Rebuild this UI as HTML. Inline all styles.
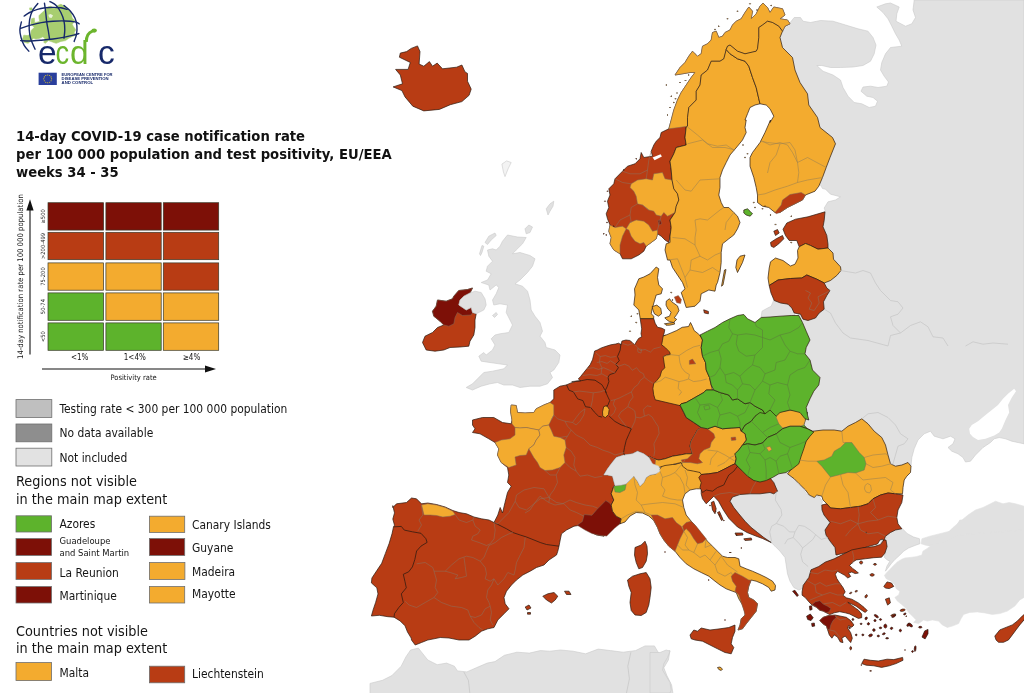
<!DOCTYPE html>
<html><head><meta charset="utf-8"><title>ECDC COVID-19 map</title>
<style>
html,body{margin:0;padding:0;background:#fff;}
body{width:1024px;height:693px;overflow:hidden;position:relative;font-family:"DejaVu Sans Condensed","DejaVu Sans","Liberation Sans",sans-serif;color:#111;}
#map{position:absolute;left:0;top:0;filter:blur(0.45px);}
#left{filter:blur(0.4px);}
</style></head><body>
<svg id="map" width="1024" height="693" viewBox="0 0 1024 693" stroke-linejoin="round">
<path d="M789.2,23.8L794.2,17.5L800.5,17.5L803.0,21.2L810.5,22.5L820.5,20.5L833.0,21.2L845.5,25.0L858.0,28.8L868.0,31.2L873.0,37.5L876.0,45.0L874.2,53.8L870.5,61.2L863.0,65.5L853.0,67.0L840.5,67.5L830.5,67.5L821.8,65.5L816.8,65.5L823.0,71.2L833.0,75.0L840.5,80.0L843.0,87.5L848.0,96.2L854.2,102.5L861.8,103.8L869.2,107.5L875.5,106.2L877.5,101.2L873.0,97.5L866.8,96.2L861.0,91.2L863.0,87.0L870.5,86.2L878.0,87.5L886.8,86.2L888.5,82.0L884.2,76.2L880.5,70.0L881.8,62.5L885.5,53.8L890.5,47.5L901.8,46.2L899.2,40.0L895.5,33.8L891.8,26.2L888.0,18.8L883.0,12.5L876.8,7.0L885.5,3.8L890.5,3.0L899.2,7.0L896.8,13.8L896.0,21.2L905.5,26.2L911.8,23.8L915.5,17.5L913.0,10.0L914.2,0.0L1024.0,0.0L1024.0,443.8L1018.0,442.5L1011.8,441.2L1005.5,438.8L999.2,437.5L994.2,438.8L990.5,442.5L983.0,447.5L975.5,455.0L970.5,461.2L965.5,462.0L963.0,457.5L958.0,453.8L951.8,451.2L948.0,447.5L953.0,443.8L955.0,438.8L950.5,436.2L943.0,438.8L934.2,436.2L930.5,431.2L924.2,433.8L918.0,440.0L914.2,448.8L911.8,457.5L911.0,466.2L903.0,480.0L878.0,467.5L860.0,440.0L800.0,440.0L790.0,420.0L780.0,380.0L790.0,330.0L806.0,300.0L808.0,265.0L812.0,225.0L825.5,211.8L824.2,208.0L828.0,201.8L835.5,200.0L840.5,196.8L830.5,194.2L825.5,189.2L822.5,188.5L800.0,150.0L775.0,100.0L770.0,50.0L775.0,30.0Z" fill="#e1e1e1" stroke="#c9c9c9" stroke-width="0.6"/>
<path d="M921.9,538.7L929.9,536.2L939.9,533.7L949.8,531.2L956.1,526.2L959.8,520.0L1024.0,520.0L1024.0,597.4L1019.8,599.9L1014.8,606.1L1007.3,611.1L999.8,613.6L992.3,614.4L984.8,612.9L977.3,611.9L969.8,612.4L963.6,614.4L961.1,618.6L958.6,623.6L952.3,626.1L947.3,627.4L942.3,624.9L938.6,621.1L932.4,619.9L927.4,621.1L923.6,619.9L918.6,623.6L913.6,622.4L916.1,619.9L912.4,616.1L908.6,612.4L906.1,608.6L902.4,604.9L897.4,601.1L894.9,597.4L898.7,594.9L899.9,591.2L896.2,588.7L894.9,584.9L891.2,581.2L886.2,578.7L884.4,575.4L886.9,572.4L889.9,569.4L893.7,565.4L897.4,561.9L901.9,559.2L904.9,558.0L909.9,557.5L916.1,556.7L921.9,555.0L922.9,551.2L926.9,548.7L930.4,546.2L924.9,545.0L921.1,543.7Z" fill="#e1e1e1" stroke="#e1e1e1" stroke-width="0.6"/>
<path d="M1024.0,506.2L1015.5,503.8L1009.2,502.5L1003.0,503.8L995.5,501.2L990.5,503.8L983.0,507.5L975.5,510.0L968.0,515.0L960.5,521.2L953.0,527.5L948.0,532.5L940.5,536.2L930.5,538.8L923.5,540.5L928.0,545.0L943.0,542.5L958.0,535.0L1024.0,530.0Z" fill="#e1e1e1" stroke="#e1e1e1" stroke-width="0.6"/>
<path d="M885.4,541.2L887.4,530.0L894.9,526.2L901.9,528.2L907.4,533.7L913.6,537.0L919.4,538.7L919.9,543.7L914.9,545.5L908.6,548.0L903.6,551.2L899.9,555.0L894.9,559.5L891.2,563.7L887.4,568.7L885.4,571.2L886.9,566.2L889.9,561.2L887.4,560.0L884.4,557.5L885.4,550.0L879.9,547.5L882.4,535.0Z" fill="#e1e1e1" stroke="#c9c9c9" stroke-width="0.6"/>
<path d="M730.0,501.2L732.5,497.0L740.0,494.5L750.0,493.8L760.0,493.8L770.0,492.5L773.8,493.8L777.5,491.2L772.5,483.8L771.2,478.8L775.0,475.0L782.5,473.0L788.8,473.8L793.8,477.5L797.5,483.8L802.5,487.5L806.2,493.8L812.5,497.5L818.8,496.2L822.5,501.2L821.2,506.2L823.8,511.2L827.5,517.5L830.0,522.5L826.2,528.8L825.0,535.0L828.8,540.0L832.5,545.0L837.5,551.2L837.5,557.5L832.5,562.5L825.0,565.0L820.0,567.5L815.0,571.2L812.5,576.2L808.8,582.5L803.8,588.0L798.8,590.0L793.8,587.5L790.0,581.2L787.5,573.8L786.2,565.0L785.0,557.5L780.0,551.2L775.0,546.2L771.2,542.5L763.8,537.5L757.5,532.5L751.2,527.5L745.0,521.2L738.8,513.8L733.8,507.5Z" fill="#e1e1e1" stroke="#c9c9c9" stroke-width="0.6"/>
<path d="M507.5,235.0L517.5,237.0L526.2,237.5L522.5,243.8L516.2,250.0L512.5,253.8L520.0,252.5L530.0,255.5L535.0,258.8L532.5,266.2L527.5,272.5L520.0,280.0L515.0,283.8L522.5,286.2L527.5,291.2L530.0,300.0L531.2,310.0L535.0,316.2L540.0,322.5L542.5,331.2L540.0,336.2L545.0,342.5L546.2,347.5L555.0,350.0L560.0,355.0L558.8,362.5L553.8,370.0L550.0,372.5L552.5,377.5L547.5,383.8L540.0,386.2L530.0,386.2L520.0,387.5L512.5,385.0L503.8,385.0L497.5,382.5L490.0,383.8L481.2,386.2L472.5,390.0L466.2,387.5L472.5,383.8L477.5,378.8L483.8,372.5L492.5,371.2L503.8,368.8L507.5,365.0L498.8,363.8L490.0,362.5L481.2,361.2L478.8,356.2L483.8,352.5L486.2,355.0L492.5,350.0L495.0,345.0L491.2,338.8L495.0,335.0L500.0,333.8L508.8,332.5L512.5,325.0L510.0,320.0L506.2,312.5L507.5,305.0L500.0,303.8L493.8,305.0L492.5,300.0L496.2,293.8L498.8,287.5L496.2,285.0L490.0,290.0L488.8,285.0L481.2,282.5L487.5,280.0L491.2,273.8L486.2,271.2L487.5,266.2L492.5,261.2L488.8,256.2L487.5,250.0L492.5,248.8L496.2,250.0L500.0,246.2L502.5,241.2Z" fill="#e1e1e1" stroke="#c9c9c9" stroke-width="0.6"/>
<path d="M485.0,242.5L488.8,236.2L495.0,233.0L496.2,235.5L491.2,240.0L487.5,244.5Z" fill="#e1e1e1" stroke="#c9c9c9" stroke-width="0.6"/>
<path d="M479.5,253.8L482.0,245.5L483.8,246.2L482.0,252.5L480.5,255.5Z" fill="#e1e1e1" stroke="#c9c9c9" stroke-width="0.6"/>
<path d="M525.0,228.8L528.8,225.0L532.5,227.0L530.0,232.5L526.2,233.8Z" fill="#e1e1e1" stroke="#c9c9c9" stroke-width="0.6"/>
<path d="M546.2,208.8L550.0,203.8L553.8,201.2L553.0,206.2L550.0,211.2L548.0,215.0Z" fill="#e1e1e1" stroke="#c9c9c9" stroke-width="0.6"/>
<path d="M492.5,315.5L496.2,312.5L497.5,314.5L494.5,317.5Z" fill="#e1e1e1" stroke="#c9c9c9" stroke-width="0.6"/>
<path d="M501.9,164.1L506.6,160.9L511.2,162.5L508.1,168.8L505.0,176.6L503.4,171.9Z" fill="#f3f3f3" stroke="#c9c9c9" stroke-width="0.6"/>
<path d="M761.2,317.0L762.0,311.2L766.2,308.8L771.2,306.2L773.8,300.0L780.0,301.2L787.5,303.8L792.5,308.8L795.0,315.5L780.0,317.5L770.0,318.0Z" fill="#e1e1e1" stroke="#c9c9c9" stroke-width="0.6"/>
<path d="M370.0,683.4L382.5,680.3L391.9,675.6L401.2,666.2L405.9,656.9L410.6,650.0L418.4,648.1L421.6,652.2L427.8,660.0L437.2,664.7L446.6,663.1L454.4,666.2L457.5,670.9L466.9,671.9L476.2,667.8L487.2,663.1L495.0,661.6L504.4,655.3L516.9,652.2L529.4,653.1L540.3,650.6L549.7,651.2L560.6,650.0L573.1,651.2L585.6,653.8L598.1,649.1L610.6,650.6L623.1,652.2L635.6,650.6L645.0,645.9L654.4,645.9L659.1,653.8L670.0,650.6L668.4,660.0L663.8,667.8L666.9,675.6L671.6,685.0L673.1,694.4L370.0,694.4Z" fill="#e1e1e1" stroke="#c9c9c9" stroke-width="0.6"/>
<path d="M660.0,652.5L666.2,650.0L670.0,651.2L667.5,657.5L663.8,663.8L662.5,670.0L666.2,676.2L670.0,682.5L671.2,690.0L670.0,693.0L650.0,693.0L650.0,652.5Z" fill="#e1e1e1" stroke="#c9c9c9" stroke-width="0.6"/>
<path d="M741.2,431.2L745.0,425.0L751.2,421.2L755.0,416.2L760.0,410.5L767.5,408.0L775.0,409.2L790.0,408.0L798.8,408.5L807.5,412.5L805.0,421.2L803.8,425.0L807.5,428.8L813.8,432.0L807.5,428.8L800.0,426.2L790.0,426.2L782.5,428.8L776.2,433.8L767.5,437.5L762.5,443.0L755.0,445.0L747.5,443.8L742.5,445.0L746.2,440.0L745.0,433.8Z" fill="#5db32c" stroke="#2b1a10" stroke-width="0.7"/>
<path d="M777.0,412.5L790.0,410.5L798.8,410.5L806.2,413.8L805.0,421.2L803.8,425.0L800.0,426.2L790.0,426.2L782.5,428.0L778.8,423.8L776.2,417.5Z" fill="#f3ab2f" stroke="#7a6a5a" stroke-width="0.5"/>
<path d="M701.2,490.0L705.0,488.0L711.2,489.2L716.2,486.8L722.5,484.2L725.0,480.0L727.5,475.8L731.2,471.2L736.2,465.5L742.5,470.5L750.0,475.5L756.2,479.2L763.8,479.2L770.0,478.0L773.8,482.5L777.5,491.2L773.8,493.8L770.0,492.5L760.0,493.8L750.0,493.8L740.0,494.5L732.5,497.0L730.0,501.2L733.8,507.5L738.8,513.8L745.0,521.2L751.2,527.5L757.5,532.5L763.8,537.5L771.2,542.5L762.5,538.5L757.0,536.5L747.0,532.5L737.5,527.0L729.0,518.5L723.5,510.2L718.5,501.2L713.8,496.2L710.0,500.0L706.2,503.8L702.5,498.8L701.2,493.8Z" fill="#b83c14" stroke="#2b1a10" stroke-width="0.7"/>
<path d="M787.5,473.8L792.5,468.0L797.5,459.5L801.2,450.8L806.2,440.8L813.0,431.2L823.0,430.0L834.2,430.0L841.8,431.2L848.0,426.2L855.5,422.5L861.8,418.8L868.0,423.8L874.2,431.2L881.8,437.5L885.5,445.0L888.0,455.0L890.5,463.8L895.5,466.2L901.8,465.0L908.0,462.5L911.0,466.2L910.5,472.5L906.8,476.2L904.2,480.0L903.0,487.5L902.5,493.8L895.5,493.8L888.0,493.0L880.5,495.0L873.0,498.8L868.0,503.8L860.5,506.2L850.5,507.5L840.5,508.8L830.5,508.0L826.8,503.8L823.0,500.0L821.8,496.2L816.8,495.0L814.2,497.5L809.2,495.0L805.5,490.0L799.2,483.8L794.2,478.8Z" fill="#f3ab2f" stroke="#2b1a10" stroke-width="0.7"/>
<path d="M640.2,318.6L641.0,324.1L641.7,328.9L641.0,333.7L641.7,336.8L638.6,338.4L637.0,340.8L634.6,344.8L632.2,342.4L629.8,340.5L625.9,340.0L621.9,341.1L621.1,344.8L618.7,343.2L615.6,344.0L610.8,344.8L606.0,346.3L601.3,347.9L597.3,350.0L594.6,351.1L593.7,355.1L592.5,359.8L590.2,364.6L587.0,368.6L583.8,372.5L580.6,376.5L578.3,378.9L580.6,380.8L575.9,381.3L571.1,382.9L566.2,385.0L560.0,386.2L553.8,390.0L553.8,398.8L550.0,402.5L543.8,405.0L536.2,408.8L533.8,412.5L525.0,413.0L517.5,412.5L516.2,405.5L511.2,405.0L510.5,411.2L512.0,420.0L511.2,423.8L502.5,422.5L493.8,417.5L482.5,417.5L472.5,420.0L472.5,425.0L475.0,428.8L472.5,432.5L480.0,433.8L488.8,438.8L495.0,442.5L498.8,448.8L497.5,455.0L501.2,462.5L507.5,467.5L508.8,475.0L507.5,482.5L511.2,486.2L507.5,492.5L505.0,502.5L502.5,513.0L500.2,507.5L497.8,515.0L494.0,522.5L489.0,520.0L481.5,518.8L474.0,517.0L466.5,513.8L459.0,512.5L452.8,510.5L445.2,507.0L436.5,504.5L427.8,503.0L421.5,503.8L416.5,498.8L411.5,498.0L406.5,502.5L396.5,503.8L392.8,507.5L392.8,505.6L394.5,512.9L392.8,519.1L394.5,525.2L393.5,526.9L392.0,533.8L389.1,543.6L385.4,553.4L381.7,563.3L376.8,570.6L371.9,578.0L371.4,582.9L376.8,587.8L378.0,593.9L375.6,602.5L373.1,609.9L371.4,616.0L379.3,615.3L387.9,616.7L394.0,617.2L400.1,620.9L405.0,625.8L407.5,632.0L411.2,638.1L411.5,640.0L415.2,645.0L421.5,642.5L427.8,640.0L434.0,638.8L440.2,637.5L449.0,638.0L459.0,640.0L469.0,640.0L475.2,636.2L481.5,631.2L487.8,628.8L494.0,627.5L497.8,620.0L504.0,613.8L509.0,608.8L505.2,603.8L504.0,597.5L506.5,591.2L511.5,585.0L516.5,580.0L522.8,575.0L530.2,571.2L536.5,567.5L544.0,565.0L549.0,560.0L556.5,555.0L557.8,551.2L559.0,546.2L560.2,540.0L561.5,533.8L566.5,530.0L574.0,526.2L581.5,525.0L584.0,527.5L589.0,531.2L596.5,535.0L604.0,536.2L609.0,531.2L615.2,526.2L621.5,522.5L620.0,523.8L621.2,518.8L616.2,516.2L612.5,511.2L611.2,505.0L613.8,500.0L611.2,493.8L613.8,486.2L615.0,485.5L613.8,481.2L612.5,476.2L607.5,475.0L603.8,475.0L607.5,468.8L611.2,463.8L616.2,457.5L623.8,455.0L632.5,453.8L637.5,451.2L643.8,453.8L648.8,457.5L648.8,456.2L653.8,458.8L658.8,460.0L665.0,458.8L672.5,456.2L680.0,455.0L686.2,453.8L692.5,453.8L690.0,446.2L691.2,441.2L697.5,430.0L701.2,427.5L693.8,422.5L686.2,417.5L683.8,412.5L680.0,405.0L686.2,402.5L685.0,385.0L675.0,360.0L674.3,345.6L671.1,337.6L665.6,335.2L663.2,336.0L664.0,333.7L664.8,329.7L661.6,328.1L657.6,327.3L655.2,323.3L653.7,318.6Z" fill="#b83c14" stroke="#2b1a10" stroke-width="0.7"/>
<path d="M663.2,336.0L665.6,335.2L671.1,332.9L676.7,330.5L682.2,327.3L688.6,326.5L690.5,322.5L692.5,326.5L694.1,330.5L698.1,333.7L700.5,336.0L702.1,337.6L700.0,335.0L702.5,340.0L701.2,347.5L702.5,356.2L705.5,362.5L706.2,370.0L709.5,377.5L711.2,385.0L712.5,390.0L706.2,390.0L703.8,392.5L695.0,397.5L686.2,402.5L681.2,403.8L679.5,405.5L655.2,399.8L653.7,394.8L652.9,388.4L653.7,383.7L656.8,380.5L660.0,376.5L661.6,371.0L664.8,367.8L664.0,362.2L663.2,356.7L666.3,355.1L670.3,354.3L669.5,351.9L665.6,347.9L661.6,344.8L662.4,340.8Z" fill="#f3ab2f" stroke="#2b1a10" stroke-width="0.7"/>
<path d="M689.4,360.6L692.5,359.0L695.7,363.8L689.4,364.3Z" fill="#b83c14" stroke="#7a6a5a" stroke-width="0.5"/>
<path d="M603.7,406.7L606.8,405.5L609.2,409.3L608.5,414.5L605.4,417.6L602.8,416.2L602.5,411.9Z" fill="#f3ab2f" stroke="#2b1a10" stroke-width="0.7"/>
<path d="M511.2,405.0L516.2,405.5L517.5,412.5L525.0,413.0L533.8,412.5L536.2,408.8L543.8,405.0L550.0,402.5L553.8,405.0L553.8,415.0L551.2,420.0L548.8,425.0L542.5,426.2L538.8,430.0L532.5,428.8L526.2,427.5L520.0,428.0L515.0,427.5L512.0,423.8L512.0,420.0L510.5,411.2Z" fill="#f3ab2f" stroke="#7a6a5a" stroke-width="0.5"/>
<path d="M515.0,427.5L520.0,428.0L526.2,427.5L532.5,428.8L538.8,430.0L540.0,435.0L536.2,440.0L533.8,445.0L528.8,448.8L526.2,455.0L520.0,455.5L515.0,457.0L516.2,465.0L508.8,467.5L501.2,462.5L497.5,455.0L498.8,448.8L495.0,442.5L501.2,440.0L510.0,438.8L515.0,435.0Z" fill="#f3ab2f" stroke="#7a6a5a" stroke-width="0.5"/>
<path d="M538.8,430.0L542.5,426.2L548.8,425.0L551.2,430.0L553.8,436.2L560.0,437.5L565.0,440.0L566.2,447.5L563.8,455.0L565.0,462.5L560.0,467.5L552.5,470.0L545.0,470.5L540.0,467.5L537.5,462.5L533.8,457.5L528.8,448.8L533.8,445.0L536.2,440.0L540.0,435.0Z" fill="#f3ab2f" stroke="#7a6a5a" stroke-width="0.5"/>
<path d="M577.2,525.2L582.4,521.4L584.2,514.5L591.9,515.3L597.1,509.3L605.8,500.6L609.3,502.7L611.2,504.9L612.6,511.2L616.2,516.2L621.2,518.8L620.0,523.8L614.5,528.3L606.7,536.1L598.9,535.2L591.9,533.5L585.0,530.0Z" fill="#7d1007" stroke="#7a6a5a" stroke-width="0.5"/>
<path d="M421.5,505.0L427.8,503.8L436.5,505.0L445.2,507.5L452.8,511.2L455.2,514.5L450.2,516.2L442.8,517.0L436.5,515.5L430.2,515.0L424.0,515.0L422.8,510.0Z" fill="#f3ab2f" stroke="#7a6a5a" stroke-width="0.5"/>
<path d="M635.0,547.5L641.2,545.0L645.0,541.2L647.0,546.2L647.5,553.8L646.2,561.2L642.5,567.5L638.8,568.8L636.2,562.5L634.5,555.0Z" fill="#b83c14" stroke="#2b1a10" stroke-width="0.7"/>
<path d="M542.8,596.2L547.8,593.8L554.0,592.5L557.8,596.2L555.2,600.0L551.5,603.0L546.5,600.0Z" fill="#b83c14" stroke="#2b1a10" stroke-width="0.7"/>
<path d="M564.5,591.2L569.0,591.2L571.0,594.5L566.5,594.5Z" fill="#b83c14" stroke="#2b1a10" stroke-width="0.7"/>
<path d="M525.2,607.0L529.0,605.0L531.0,608.0L527.0,610.0Z" fill="#b83c14" stroke="#2b1a10" stroke-width="0.7"/>
<path d="M527.5,612.5L530.5,612.5L530.5,614.2L527.5,614.2Z" fill="#b83c14" stroke="#2b1a10" stroke-width="0.7"/>
<path d="M668.8,128.8L671.2,120.0L673.8,110.0L677.5,100.0L681.2,92.5L686.2,85.0L691.2,77.5L695.0,72.5L690.0,72.5L682.5,73.8L675.0,75.0L680.0,67.5L685.0,62.5L688.8,56.2L692.5,51.2L695.0,53.8L697.5,56.2L701.2,53.8L702.5,46.2L707.5,43.8L711.2,40.0L712.5,32.5L716.2,31.2L718.8,37.5L722.5,36.2L725.0,32.5L730.0,30.0L732.5,25.0L736.2,21.2L741.2,18.8L745.0,12.5L748.8,7.0L752.5,11.2L751.2,18.8L756.2,13.8L760.0,6.2L763.0,3.0L767.5,7.5L770.0,12.5L773.8,7.0L782.5,8.8L785.0,15.0L780.0,18.8L787.5,20.0L790.0,23.8L785.0,26.2L782.5,31.2L778.8,26.2L772.5,22.5L767.5,21.2L762.5,25.0L758.8,27.5L758.8,37.5L757.5,48.8L756.2,51.2L745.0,53.8L737.5,51.2L730.0,45.0L727.5,46.2L726.2,49.5L723.8,58.8L720.0,61.2L711.2,61.2L707.5,70.0L701.2,75.0L700.0,85.0L696.2,91.2L696.2,100.0L688.8,107.5L687.5,117.5L687.5,126.2L686.2,127.0L685.0,137.5L686.2,145.0L676.2,147.5L673.8,153.8L670.0,161.2L671.2,170.0L672.0,180.0L673.8,188.8L677.5,193.8L678.8,200.0L676.2,206.2L675.0,212.5L670.0,220.0L671.2,227.5L670.0,236.2L668.8,242.5L665.0,240.0L661.2,236.2L657.5,233.8L656.2,238.8L651.2,242.5L646.2,246.2L643.8,251.2L638.8,255.0L631.2,258.8L622.5,258.8L620.0,253.8L613.8,250.0L610.0,243.8L611.2,237.5L608.8,231.2L610.0,225.0L607.5,218.8L606.2,213.8L608.8,207.5L607.5,201.2L610.0,195.0L608.8,188.8L613.8,183.8L615.0,178.8L622.5,171.2L627.5,166.2L635.0,163.8L640.0,158.8L641.2,152.5L643.8,157.5L652.5,156.2L651.2,151.2L653.8,145.0L656.2,141.2L660.0,137.5L661.2,132.5L668.8,128.8Z" fill="#b83c14" stroke="#2b1a10" stroke-width="0.7"/>
<path d="M668.8,128.8L671.2,120.0L673.8,110.0L677.5,100.0L681.2,92.5L686.2,85.0L691.2,77.5L695.0,72.5L690.0,72.5L682.5,73.8L675.0,75.0L680.0,67.5L685.0,62.5L688.8,56.2L692.5,51.2L695.0,53.8L697.5,56.2L701.2,53.8L702.5,46.2L707.5,43.8L711.2,40.0L712.5,32.5L716.2,31.2L718.8,37.5L722.5,36.2L725.0,32.5L730.0,30.0L732.5,25.0L736.2,21.2L741.2,18.8L745.0,12.5L748.8,7.0L752.5,11.2L751.2,18.8L756.2,13.8L760.0,6.2L763.0,3.0L767.5,7.5L770.0,12.5L773.8,7.0L782.5,8.8L785.0,15.0L780.0,18.8L787.5,20.0L790.0,23.8L785.0,26.2L782.5,31.2L778.8,26.2L772.5,22.5L767.5,21.2L762.5,25.0L758.8,27.5L758.8,37.5L757.5,48.8L756.2,51.2L745.0,53.8L737.5,51.2L730.0,45.0L727.5,46.2L726.2,49.5L723.8,58.8L720.0,61.2L711.2,61.2L707.5,70.0L701.2,75.0L700.0,85.0L696.2,91.2L696.2,100.0L688.8,107.5L687.5,117.5L687.5,126.2L678.8,127.5Z" fill="#f3ab2f" stroke="#7a6a5a" stroke-width="0.5"/>
<path d="M653.8,173.8L662.5,172.5L665.0,178.8L672.0,180.0L673.8,188.8L677.5,193.8L678.8,200.0L676.2,206.2L675.0,212.5L667.5,216.2L663.8,212.5L661.2,216.2L656.2,215.0L653.8,211.2L648.8,210.0L642.5,205.0L637.5,203.8L636.2,196.2L633.8,191.2L630.0,187.5L631.2,183.8L637.5,180.0L646.2,178.8L652.5,180.0Z" fill="#f3ab2f" stroke="#7a6a5a" stroke-width="0.5"/>
<path d="M610.0,225.0L615.0,227.5L622.5,226.2L626.2,228.8L622.5,236.2L620.0,245.0L620.0,253.8L613.8,250.0L610.0,243.8L611.2,237.5L608.8,231.2Z" fill="#f3ab2f" stroke="#7a6a5a" stroke-width="0.5"/>
<path d="M626.2,228.8L630.0,222.5L636.2,220.0L643.8,221.2L648.8,225.0L652.5,231.2L657.5,230.0L657.5,233.8L656.2,238.8L651.2,242.5L646.2,246.2L643.8,242.5L640.0,243.8L635.0,241.2L631.2,236.2L628.8,230.0Z" fill="#f3ab2f" stroke="#7a6a5a" stroke-width="0.5"/>
<path d="M658.0,220.5L660.5,220.0L661.5,223.8L659.0,225.0Z" fill="#7d1007" stroke="#7a6a5a" stroke-width="0.5"/>
<path d="M726.2,49.5L730.0,53.8L737.5,58.8L745.0,61.2L748.8,66.2L752.5,77.5L756.2,87.5L758.8,98.8L760.0,103.8L755.0,105.0L750.0,107.5L747.5,113.8L745.0,120.0L746.2,120.0L745.0,127.5L746.2,132.5L742.5,140.0L737.5,146.2L730.0,155.0L726.2,162.5L722.5,170.0L720.0,177.5L720.0,187.5L718.8,195.0L721.2,202.5L723.8,207.5L728.8,207.5L733.8,212.5L737.5,216.2L740.0,222.5L737.5,228.8L733.8,235.0L728.8,238.8L722.5,243.8L721.2,252.5L721.2,262.5L720.0,272.5L717.5,282.5L716.2,285.0L715.0,291.2L708.8,290.0L701.2,293.8L700.0,301.2L695.0,306.2L686.2,307.5L683.8,300.0L681.2,292.5L685.0,288.8L682.5,282.5L677.5,275.0L672.5,267.5L670.0,260.0L667.5,260.0L665.0,250.0L666.2,243.8L670.0,242.5L670.0,236.2L671.2,227.5L670.0,220.0L675.0,212.5L676.2,206.2L678.8,200.0L677.5,193.8L673.8,188.8L672.0,180.0L671.2,170.0L670.0,161.2L673.8,153.8L676.2,147.5L686.2,145.0L685.0,137.5L686.2,127.0L687.5,126.2L687.5,117.5L688.8,107.5L696.2,100.0L696.2,91.2L700.0,85.0L701.2,75.0L707.5,70.0L711.2,61.2L720.0,61.2L723.8,58.8Z" fill="#f3ab2f" stroke="#2b1a10" stroke-width="0.7"/>
<path d="M740.0,256.2L745.0,255.0L742.5,262.5L737.5,272.5L735.8,267.5L737.0,260.0Z" fill="#f3ab2f" stroke="#2b1a10" stroke-width="0.7"/>
<path d="M724.5,270.0L726.0,269.5L723.0,285.0L721.5,286.2Z" fill="#f3ab2f" stroke="#2b1a10" stroke-width="0.7"/>
<path d="M782.5,31.2L780.0,37.5L782.5,47.5L792.5,57.5L795.0,70.0L800.0,82.5L807.5,93.8L808.8,105.0L817.5,117.5L820.0,127.5L832.5,137.5L835.5,143.8L835.0,145.0L830.0,157.5L826.2,167.5L822.5,177.5L818.8,186.2L815.0,191.2L805.5,195.0L802.5,200.0L795.0,203.8L787.5,207.5L780.0,212.5L775.0,212.5L768.8,207.5L762.5,206.2L757.5,202.5L757.5,195.0L756.2,187.5L753.8,177.5L750.0,166.2L750.0,157.5L752.5,152.5L760.0,142.5L765.0,132.5L770.5,120.0L770.0,122.5L773.8,116.2L770.0,108.8L766.2,105.0L760.0,103.8L758.8,98.8L756.2,87.5L752.5,77.5L748.8,66.2L745.0,61.2L737.5,58.8L730.0,53.8L726.2,49.5L727.5,46.2L730.0,45.0L737.5,51.2L745.0,53.8L756.2,51.2L757.5,48.8L758.8,37.5L758.8,27.5L762.5,25.0L767.5,21.2L772.5,22.5L778.8,26.2Z" fill="#f3ab2f" stroke="#2b1a10" stroke-width="0.7"/>
<path d="M775.0,212.5L781.2,205.0L782.5,200.0L790.0,194.5L801.2,192.5L805.5,195.0L802.5,200.0L795.0,203.8L787.5,207.5L780.0,212.5L776.2,213.8Z" fill="#b83c14" stroke="#7a6a5a" stroke-width="0.5"/>
<path d="M743.8,210.0L747.5,208.8L750.0,211.2L752.5,213.8L750.0,216.2L746.2,215.0L743.8,213.0Z" fill="#5db32c" stroke="#2b1a10" stroke-width="0.7"/>
<path d="M636.2,285.0L638.8,278.8L643.8,277.0L650.0,273.8L656.2,267.0L658.8,268.8L657.5,277.5L658.8,285.0L662.5,288.8L661.2,293.8L656.2,295.0L652.1,309.0L651.3,313.8L653.7,316.2L653.7,318.6L640.2,318.6L638.8,310.0L633.8,305.0L635.0,295.0L634.5,288.8Z" fill="#f3ab2f" stroke="#2b1a10" stroke-width="0.7"/>
<path d="M652.1,306.7L656.8,305.1L660.8,308.3L661.6,313.8L658.4,316.2L654.4,313.8L652.9,309.8Z" fill="#f3ab2f" stroke="#2b1a10" stroke-width="0.7"/>
<path d="M666.3,301.1L669.5,298.7L671.9,301.9L677.5,305.9L679.0,310.6L676.7,314.6L674.3,317.8L676.7,319.4L673.5,322.5L669.5,321.7L666.3,319.4L664.8,317.8L669.5,316.2L671.1,312.2L667.9,309.0L666.0,305.1Z" fill="#f3ab2f" stroke="#2b1a10" stroke-width="0.7"/>
<path d="M665.6,323.7L669.5,323.0L674.3,322.5L674.6,324.1L669.5,325.2L666.0,325.2Z" fill="#f3ab2f" stroke="#2b1a10" stroke-width="0.7"/>
<path d="M674.3,297.1L678.3,295.6L681.4,299.5L680.6,303.5L676.7,302.7Z" fill="#b83c14" stroke="#7a6a5a" stroke-width="0.5"/>
<path d="M703.7,309.8L708.4,311.4L708.4,313.8L704.4,313.0Z" fill="#b83c14" stroke="#2b1a10" stroke-width="0.7"/>
<path d="M783.0,229.2L786.8,223.0L795.5,219.2L808.0,216.8L825.0,211.8L824.2,220.5L823.0,226.8L826.8,235.5L828.0,244.2L828.0,248.0L818.0,249.2L810.5,245.5L805.5,243.5L799.2,246.8L796.8,240.5L789.2,240.5L785.5,235.5Z" fill="#b83c14" stroke="#2b1a10" stroke-width="0.7"/>
<path d="M770.5,242.5L776.2,238.8L782.5,235.5L783.8,238.8L778.8,243.8L773.8,247.5L771.2,246.2Z" fill="#b83c14" stroke="#2b1a10" stroke-width="0.7"/>
<path d="M773.8,231.2L777.5,229.5L779.2,233.0L775.5,235.5Z" fill="#b83c14" stroke="#2b1a10" stroke-width="0.7"/>
<path d="M770.5,261.8L775.5,258.0L783.0,260.5L790.5,266.0L795.0,264.2L798.0,258.0L797.5,250.5L799.2,246.8L805.5,243.5L810.5,245.5L818.0,249.2L828.0,248.0L833.0,253.0L833.5,259.2L840.5,266.8L841.0,270.5L836.8,275.5L830.5,280.5L824.2,283.0L816.8,279.2L806.8,275.0L801.8,278.0L790.5,278.5L778.0,280.0L769.2,285.5L768.0,278.0L769.2,268.0Z" fill="#f3ab2f" stroke="#2b1a10" stroke-width="0.7"/>
<path d="M769.2,285.5L778.0,280.0L790.5,278.5L801.8,278.0L806.8,275.0L816.8,279.2L824.2,283.0L826.8,288.0L830.0,290.5L826.8,295.5L823.5,301.8L824.2,309.2L819.2,313.0L815.5,318.0L808.0,320.5L803.0,319.2L800.5,314.2L794.2,313.0L791.8,308.0L788.0,304.2L780.5,303.0L774.2,300.5L771.0,293.0Z" fill="#b83c14" stroke="#2b1a10" stroke-width="0.7"/>
<path d="M393.1,86.9L402.5,83.8L400.3,75.0L395.6,69.4L408.1,69.4L410.3,62.5L399.4,57.2L400.3,53.1L406.6,51.6L411.2,48.4L417.5,45.9L420.0,51.6L419.1,64.1L423.8,66.2L429.4,61.6L432.5,66.2L437.2,63.1L442.5,68.8L456.6,67.2L461.9,65.0L465.0,71.9L467.5,73.4L467.5,81.2L471.2,89.1L469.1,95.3L461.9,101.6L450.3,104.7L439.4,109.4L423.8,110.9L412.8,106.2L405.0,96.9L401.9,90.6Z" fill="#b83c14" stroke="#2b1a10" stroke-width="0.7"/>
<path d="M453.8,296.2L458.8,290.5L467.5,289.5L472.5,288.0L470.0,293.0L463.8,296.2L460.0,300.0L458.8,305.0L462.5,307.5L466.2,310.0L471.2,307.5L472.5,312.5L476.2,313.8L475.0,320.0L475.0,327.5L473.8,335.0L470.0,341.2L468.8,346.2L460.0,347.0L450.0,347.5L443.8,350.0L435.0,351.2L426.2,350.0L422.5,342.5L425.0,336.2L432.5,332.5L437.5,327.5L443.8,325.0L440.0,321.2L433.8,316.2L432.5,311.2L436.2,306.2L437.5,300.0L446.2,301.2L452.5,298.8Z" fill="#b83c14" stroke="#2b1a10" stroke-width="0.7"/>
<path d="M453.8,296.2L458.8,290.5L467.5,289.5L472.5,288.0L470.0,293.0L463.8,296.2L460.0,300.0L458.8,305.0L462.5,307.5L466.2,310.0L471.2,307.5L472.5,312.5L471.2,315.0L462.5,315.5L457.5,312.5L455.0,317.5L453.8,323.8L448.8,326.2L443.8,325.0L440.0,321.2L433.8,316.2L432.5,311.2L436.2,306.2L437.5,300.0L446.2,301.2L452.5,298.8Z" fill="#7d1007" stroke="#7a6a5a" stroke-width="0.5"/>
<path d="M626.2,483.8L621.2,485.0L613.8,486.2L611.2,493.8L613.8,500.0L611.2,505.0L612.5,511.2L616.2,516.2L621.2,518.8L620.0,523.8L625.0,522.0L630.0,516.0L636.2,512.5L642.5,513.0L648.8,516.0L653.8,520.5L657.5,527.5L660.0,533.8L663.8,540.0L668.8,546.2L675.0,551.2L680.0,557.5L686.2,563.8L693.8,568.8L701.2,572.5L708.8,576.2L715.0,581.2L720.0,585.0L726.2,588.8L732.5,591.2L736.2,592.5L738.8,598.8L742.5,605.0L745.0,613.0L745.0,615.0L741.2,618.8L740.0,625.0L738.0,630.0L742.5,628.8L746.2,623.8L751.2,617.5L756.2,611.2L757.5,603.8L753.8,600.0L748.8,597.5L747.5,592.5L748.8,586.2L751.2,580.0L756.2,581.2L762.5,583.8L768.8,587.5L771.2,591.2L775.0,590.0L775.5,585.5L772.5,581.2L766.2,577.5L760.0,574.5L752.5,571.2L746.2,568.8L740.0,566.2L738.8,558.8L735.0,557.5L727.5,557.5L722.5,556.2L717.5,551.2L712.5,546.2L707.5,541.2L702.5,535.0L697.5,528.8L693.8,523.8L691.2,521.2L686.2,515.0L683.8,507.5L682.5,500.0L685.0,493.8L690.0,490.0L696.2,488.8L702.5,488.8L702.5,481.2L702.5,475.0L698.8,471.2L691.2,470.0L685.0,467.5L681.2,462.5L675.0,464.5L668.8,463.8L662.5,465.0L660.0,468.8L656.2,473.8L650.0,475.0L646.2,477.5L643.8,482.5L640.0,486.2L637.5,481.2L633.8,476.2L630.0,480.0Z" fill="#f3ab2f" stroke="#2b1a10" stroke-width="0.7"/>
<path d="M613.8,486.2L621.2,485.0L626.2,484.5L625.0,490.0L620.0,492.5L615.0,492.0Z" fill="#5db32c" stroke="#7a6a5a" stroke-width="0.5"/>
<path d="M653.8,520.5L651.2,515.0L657.5,515.0L665.0,518.8L672.5,517.5L676.2,522.5L681.2,526.2L683.8,531.2L680.0,538.8L677.5,545.0L675.0,551.2L668.8,546.2L663.8,540.0L660.0,533.8L657.5,527.5Z" fill="#b83c14" stroke="#7a6a5a" stroke-width="0.5"/>
<path d="M686.2,522.5L691.2,521.2L696.2,526.2L701.2,532.5L706.2,538.8L702.5,542.5L697.5,543.8L693.8,538.8L690.0,532.5L686.2,528.8L683.8,531.2L682.5,526.2Z" fill="#b83c14" stroke="#7a6a5a" stroke-width="0.5"/>
<path d="M731.2,576.2L735.0,572.5L742.5,576.2L748.8,580.0L751.2,580.0L748.8,586.2L747.5,592.5L748.8,597.5L753.8,600.0L757.5,603.8L756.2,611.2L751.2,617.5L746.2,623.8L742.5,628.8L738.0,630.0L740.0,625.0L741.2,618.8L745.0,615.0L743.8,610.0L741.2,602.5L738.8,595.0L735.0,591.2L736.2,586.2L732.5,581.2Z" fill="#b83c14" stroke="#7a6a5a" stroke-width="0.5"/>
<path d="M627.5,580.0L632.5,576.2L640.0,573.8L646.2,572.5L650.0,578.8L651.2,587.5L650.0,597.5L648.8,605.0L646.2,612.5L641.2,615.5L635.0,615.0L631.2,610.5L630.0,602.5L631.2,592.5L628.8,586.2Z" fill="#b83c14" stroke="#2b1a10" stroke-width="0.7"/>
<path d="M690.0,635.0L693.8,630.0L697.5,631.2L701.2,628.0L710.0,630.0L720.0,628.8L728.8,627.5L735.0,625.0L735.0,631.2L732.5,637.5L731.2,643.8L733.8,647.5L731.2,653.8L725.0,652.5L717.5,648.8L710.0,645.0L702.5,641.2L695.0,640.0L691.2,638.8Z" fill="#b83c14" stroke="#2b1a10" stroke-width="0.7"/>
<path d="M717.5,667.5L720.0,667.0L722.5,669.0L721.2,670.5L718.8,669.5Z" fill="#f3ab2f" stroke="#2b1a10" stroke-width="0.7"/>
<path d="M648.8,456.2L651.2,462.5L655.0,466.2L658.8,467.5L665.0,465.5L672.5,464.5L681.2,462.5L682.5,466.2L687.5,470.0L693.8,471.2L700.0,472.5L701.2,474.5L708.8,473.8L717.5,472.5L725.0,468.8L731.2,465.5L735.0,463.8L736.2,458.8L735.0,453.8L738.8,450.0L742.5,445.0L746.2,440.0L745.0,433.8L741.2,431.2L740.0,427.5L731.2,428.0L722.5,428.8L715.0,426.2L707.5,428.8L701.2,427.5L697.5,430.0L691.2,441.2L690.0,446.2L692.5,453.8L686.2,453.8L680.0,455.0L672.5,456.2L665.0,458.8L658.8,460.0L653.8,458.8Z" fill="#f3ab2f" stroke="#2b1a10" stroke-width="0.7"/>
<path d="M697.5,430.0L701.2,427.5L707.5,428.8L713.8,433.8L715.0,437.5L711.2,442.5L710.0,447.5L703.8,450.0L700.0,453.8L698.8,458.8L702.5,462.5L697.5,463.8L690.0,462.5L682.5,462.5L681.2,460.0L687.5,458.8L692.5,453.8L690.0,446.2L691.2,441.2Z" fill="#b83c14" stroke="#7a6a5a" stroke-width="0.5"/>
<path d="M648.8,456.2L653.8,458.8L655.5,460.0L655.0,466.2L651.2,462.5Z" fill="#b83c14" stroke="#7a6a5a" stroke-width="0.5"/>
<path d="M731.0,437.5L735.5,437.0L736.0,440.0L731.5,440.5Z" fill="#b83c14" stroke="#7a6a5a" stroke-width="0.5"/>
<path d="M679.5,405.5L681.2,403.8L686.2,402.5L695.0,397.5L703.8,392.5L706.2,390.0L713.8,390.0L720.0,392.5L728.8,395.0L732.5,400.0L737.5,398.8L745.0,403.8L750.0,402.5L755.0,406.2L762.5,410.0L765.0,413.8L760.0,412.5L755.0,416.2L751.2,421.2L745.0,425.0L741.2,431.2L740.0,427.5L731.2,428.0L722.5,428.8L715.0,426.2L707.5,428.8L701.2,427.5L693.8,422.5L686.2,417.5L683.8,412.5L680.0,405.0Z" fill="#5db32c" stroke="#2b1a10" stroke-width="0.7"/>
<path d="M700.0,335.0L707.5,331.2L715.0,327.5L722.5,322.5L730.0,318.8L737.5,315.5L743.8,314.5L747.5,318.8L755.0,322.5L761.2,317.5L770.0,317.0L780.0,316.2L791.2,315.5L798.8,315.5L802.5,322.5L806.2,331.2L810.0,340.0L806.2,347.5L805.0,353.8L810.0,360.0L812.5,370.0L820.0,377.5L818.8,385.0L813.8,391.2L810.0,398.8L806.2,407.5L807.5,415.0L808.8,420.0L805.0,418.8L800.0,412.5L790.0,410.0L780.0,412.5L776.2,416.2L770.0,410.0L765.0,413.8L762.5,410.0L755.0,406.2L750.0,402.5L745.0,403.8L737.5,398.8L732.5,400.0L728.8,395.0L720.0,392.5L713.8,390.0L711.2,385.0L709.5,377.5L706.2,370.0L705.5,362.5L702.5,356.2L701.2,347.5L702.5,340.0Z" fill="#5db32c" stroke="#2b1a10" stroke-width="0.7"/>
<path d="M738.8,450.0L742.5,445.0L747.5,443.8L755.0,445.0L762.5,443.0L767.5,437.5L776.2,433.8L782.5,428.8L790.0,426.2L800.0,426.2L807.5,428.8L813.8,432.0L810.0,436.2L806.2,441.2L803.8,448.8L801.2,456.2L798.8,463.8L792.5,468.8L786.2,472.5L778.8,473.8L772.5,477.5L766.2,480.5L760.0,482.0L753.8,480.5L747.5,476.2L742.5,471.2L737.5,466.2L735.0,463.8L736.2,458.8L735.0,453.8Z" fill="#5db32c" stroke="#2b1a10" stroke-width="0.7"/>
<path d="M766.2,447.5L770.0,446.2L771.8,449.5L768.8,451.5Z" fill="#f3ab2f" stroke="#7a6a5a" stroke-width="0.5"/>
<path d="M701.2,474.5L708.8,473.8L717.5,472.5L725.0,468.8L731.2,465.5L735.0,463.8L737.5,466.2L733.8,471.2L728.8,475.0L726.2,480.0L723.8,485.0L717.5,487.5L712.5,491.2L706.2,490.0L702.5,492.5L700.0,487.5L701.2,482.5L698.8,477.5Z" fill="#b83c14" stroke="#2b1a10" stroke-width="0.7"/>
<path d="M816.8,461.2L824.2,460.0L831.8,456.2L834.2,451.2L840.5,447.5L845.5,442.5L851.8,442.5L855.5,447.5L859.2,452.5L864.2,457.5L866.0,463.8L864.2,470.0L855.5,473.0L848.0,472.5L840.5,474.5L830.5,477.0L826.8,472.5L821.8,466.2Z" fill="#5db32c" stroke="#7a6a5a" stroke-width="0.5"/>
<path d="M821.8,505.0L826.8,503.8L830.5,508.0L840.5,508.8L850.5,507.5L860.5,506.2L868.0,503.8L873.0,498.8L880.5,495.0L888.0,493.0L895.5,493.8L903.0,495.0L901.8,502.5L898.0,510.0L896.8,517.5L898.0,523.8L901.8,528.8L895.5,530.0L890.5,532.5L885.5,536.2L884.2,540.0L885.5,545.0L882.5,539.0L880.0,540.0L877.5,544.0L870.0,546.0L860.0,549.0L852.5,551.0L845.0,553.0L836.0,555.0L835.0,547.5L830.0,541.0L826.0,535.0L825.0,530.0L830.0,522.5L828.0,520.0L824.0,515.0L822.0,510.0Z" fill="#b83c14" stroke="#2b1a10" stroke-width="0.7"/>
<path d="M802.1,591.9L803.2,585.3L808.8,577.5L811.0,569.8L818.7,566.5L825.3,562.1L834.2,558.8L843.0,554.3L851.8,549.9L862.8,547.7L873.9,546.6L880.5,544.4L883.8,540.0L886.0,540.0L887.1,546.6L884.9,553.2L881.6,557.2L873.9,557.7L865.1,558.8L856.2,559.9L852.9,562.1L849.6,565.4L852.9,568.7L856.2,570.9L858.4,573.1L855.1,573.6L851.8,572.0L848.5,573.1L850.7,576.4L847.8,578.0L844.7,575.3L840.8,573.1L837.5,571.3L835.3,574.2L836.8,578.6L839.7,583.0L843.0,587.5L845.2,591.9L843.0,595.2L846.3,597.8L851.8,599.2L858.4,602.9L864.0,607.3L867.3,610.6L865.1,612.4L860.6,609.5L856.2,606.2L851.8,604.0L847.8,602.3L852.9,606.2L858.4,610.2L861.7,614.0L861.7,617.7L858.4,618.4L854.0,616.2L849.6,614.0L845.2,612.8L839.7,611.7L834.2,612.8L829.7,614.6L826.4,612.8L823.1,611.1L819.8,610.2L816.5,607.3L812.1,605.1L808.8,601.8L805.5,597.8L802.1,595.2Z" fill="#b83c14" stroke="#2b1a10" stroke-width="0.7"/>
<path d="M819.8,620.6L823.1,617.3L828.6,615.5L835.3,615.1L840.8,616.2L846.3,617.3L850.7,620.6L854.0,625.0L851.8,627.2L848.5,625.7L847.8,628.3L850.7,632.7L852.3,638.2L850.7,642.6L847.8,639.3L845.2,636.0L841.9,638.2L843.0,642.6L840.3,642.0L837.5,637.1L834.2,634.9L831.9,638.2L829.3,634.9L827.5,629.4L826.4,626.1L823.1,623.9Z" fill="#b83c14" stroke="#2b1a10" stroke-width="0.7"/>
<path d="M812.1,604.5L815.4,601.8L819.8,600.7L823.1,604.0L827.5,606.2L830.8,608.4L829.3,611.7L826.4,612.8L823.1,611.1L819.8,610.2L816.5,607.3Z" fill="#7d1007" stroke="#7a6a5a" stroke-width="0.5"/>
<path d="M819.8,620.6L823.1,617.3L828.6,615.5L835.3,615.1L836.4,617.3L833.0,620.6L830.8,625.0L829.7,629.4L827.5,629.4L826.4,626.1L823.1,623.9Z" fill="#7d1007" stroke="#7a6a5a" stroke-width="0.5"/>
<path d="M792.6,591.2L794.9,590.3L798.4,595.2L797.1,596.5Z" fill="#7d1007" stroke="#2b1a10" stroke-width="0.7"/>
<path d="M809.4,606.2L811.6,605.8L812.1,609.5L809.9,610.2Z" fill="#7d1007" stroke="#2b1a10" stroke-width="0.7"/>
<path d="M806.6,616.2L810.3,614.0L813.2,617.7L811.0,620.6L807.7,619.5Z" fill="#7d1007" stroke="#2b1a10" stroke-width="0.7"/>
<path d="M811.6,623.4L814.3,623.0L814.7,626.1L812.1,626.5Z" fill="#7d1007" stroke="#2b1a10" stroke-width="0.7"/>
<path d="M861.7,663.6L864.0,659.2L870.6,660.3L878.3,661.0L887.1,659.2L893.8,659.6L902.6,657.4L903.0,660.3L896.0,663.6L889.3,665.8L881.6,667.4L873.9,665.8L866.2,665.2Z" fill="#b83c14" stroke="#2b1a10" stroke-width="0.7"/>
<path d="M862.6,562.5L862.2,563.6L861.1,564.1L860.0,563.6L859.5,562.5L860.0,561.4L861.1,561.0L862.2,561.4Z" fill="#b83c14" stroke="#2b1a10" stroke-width="0.7"/>
<path d="M876.5,564.3L876.1,564.9L875.0,565.2L873.9,564.9L873.4,564.3L873.9,563.7L875.0,563.4L876.1,563.7Z" fill="#b83c14" stroke="#2b1a10" stroke-width="0.7"/>
<path d="M874.3,574.9L873.7,575.8L872.1,576.2L870.6,575.8L869.9,574.9L870.6,574.0L872.1,573.6L873.7,574.0Z" fill="#b83c14" stroke="#2b1a10" stroke-width="0.7"/>
<path d="M867.1,596.8L866.2,597.8L865.3,597.8L864.9,597.0L865.2,595.8L866.1,594.8L867.0,594.7L867.4,595.6Z" fill="#b83c14" stroke="#2b1a10" stroke-width="0.7"/>
<path d="M851.9,592.5L851.7,593.0L851.0,593.6L850.0,593.8L849.5,593.5L849.7,592.9L850.4,592.4L851.4,592.2Z" fill="#b83c14" stroke="#2b1a10" stroke-width="0.7"/>
<path d="M857.4,590.7L857.3,591.3L856.5,591.8L855.5,592.0L855.0,591.7L855.2,591.1L856.0,590.6L856.9,590.4Z" fill="#b83c14" stroke="#2b1a10" stroke-width="0.7"/>
<path d="M905.2,609.7L904.6,610.6L902.8,611.3L900.9,611.3L900.0,610.7L900.6,609.8L902.4,609.1L904.3,609.1Z" fill="#b83c14" stroke="#2b1a10" stroke-width="0.7"/>
<path d="M895.8,614.3L895.3,615.1L893.6,615.9L891.7,616.2L890.8,615.8L891.3,615.0L893.0,614.2L894.9,613.9Z" fill="#b83c14" stroke="#2b1a10" stroke-width="0.7"/>
<path d="M851.6,648.2L851.3,649.4L850.7,649.9L850.1,649.4L849.8,648.2L850.1,646.9L850.7,646.4L851.3,646.9Z" fill="#b83c14" stroke="#2b1a10" stroke-width="0.7"/>
<path d="M871.5,670.9L871.2,671.2L870.6,671.3L870.0,671.2L869.7,670.9L870.0,670.6L870.6,670.5L871.2,670.6Z" fill="#b83c14" stroke="#2b1a10" stroke-width="0.7"/>
<path d="M883.8,586.4L887.1,581.9L891.5,583.0L893.8,586.4L889.3,588.6L885.4,588.1Z" fill="#b83c14" stroke="#2b1a10" stroke-width="0.7"/>
<path d="M885.4,599.2L889.3,597.8L890.4,602.9L887.6,605.1Z" fill="#b83c14" stroke="#2b1a10" stroke-width="0.7"/>
<path d="M922.0,637.1L924.7,630.9L928.0,629.4L928.0,633.8L925.1,638.9Z" fill="#7d1007" stroke="#2b1a10" stroke-width="0.7"/>
<path d="M912.3,626.7L911.1,626.9L909.4,626.0L908.3,624.5L908.3,623.3L909.5,623.1L911.2,624.0L912.3,625.5Z" fill="#7d1007" stroke="#2b1a10" stroke-width="0.7"/>
<path d="M916.0,648.7L915.6,650.7L914.9,651.5L914.3,650.6L914.3,648.5L914.7,646.5L915.5,645.8L916.0,646.6Z" fill="#7d1007" stroke="#2b1a10" stroke-width="0.7"/>
<path d="M878.3,617.5L877.3,617.8L875.7,617.1L874.5,615.8L874.3,614.8L875.3,614.5L876.9,615.3L878.2,616.5Z" fill="#7d1007" stroke="#2b1a10" stroke-width="0.7"/>
<path d="M881.6,619.5L881.3,620.1L880.5,620.4L879.7,620.1L879.4,619.5L879.7,618.9L880.5,618.6L881.3,618.9Z" fill="#7d1007" stroke="#2b1a10" stroke-width="0.7"/>
<path d="M867.2,618.8L866.4,619.7L865.6,619.8L865.0,619.1L865.1,617.9L865.9,617.1L866.8,617.0L867.3,617.7Z" fill="#7d1007" stroke="#2b1a10" stroke-width="0.7"/>
<path d="M869.4,624.2L868.8,625.0L868.0,625.1L867.4,624.5L867.3,623.6L867.9,622.8L868.8,622.6L869.4,623.2Z" fill="#7d1007" stroke="#2b1a10" stroke-width="0.7"/>
<path d="M876.1,620.6L875.8,621.3L875.0,621.7L874.2,621.3L873.9,620.6L874.2,619.8L875.0,619.5L875.8,619.8Z" fill="#7d1007" stroke="#2b1a10" stroke-width="0.7"/>
<path d="M886.9,626.1L886.4,627.5L885.4,628.1L884.3,627.5L883.8,626.1L884.3,624.7L885.4,624.1L886.4,624.7Z" fill="#7d1007" stroke="#2b1a10" stroke-width="0.7"/>
<path d="M881.8,627.9L881.4,628.5L880.5,628.7L879.6,628.5L879.2,627.9L879.6,627.2L880.5,627.0L881.4,627.2Z" fill="#7d1007" stroke="#2b1a10" stroke-width="0.7"/>
<path d="M875.2,630.1L874.8,631.0L873.9,631.4L873.0,631.0L872.6,630.1L873.0,629.1L873.9,628.7L874.8,629.1Z" fill="#7d1007" stroke="#2b1a10" stroke-width="0.7"/>
<path d="M872.4,634.6L872.2,635.7L871.1,636.6L869.6,636.8L868.7,636.1L868.9,635.1L870.1,634.2L871.5,634.0Z" fill="#7d1007" stroke="#2b1a10" stroke-width="0.7"/>
<path d="M879.6,636.0L879.2,636.6L878.3,636.9L877.4,636.6L877.0,636.0L877.4,635.4L878.3,635.1L879.2,635.4Z" fill="#7d1007" stroke="#2b1a10" stroke-width="0.7"/>
<path d="M885.2,633.2L885.1,634.0L884.2,634.6L883.0,634.8L882.4,634.4L882.6,633.7L883.5,633.0L884.6,632.8Z" fill="#7d1007" stroke="#2b1a10" stroke-width="0.7"/>
<path d="M892.7,627.7L892.7,628.5L892.1,629.3L891.1,629.4L890.4,628.9L890.4,628.1L891.0,627.3L892.0,627.2Z" fill="#7d1007" stroke="#2b1a10" stroke-width="0.7"/>
<path d="M895.7,615.1L895.4,616.0L894.2,616.9L892.7,617.5L891.8,617.2L892.1,616.4L893.3,615.4L894.8,614.9Z" fill="#7d1007" stroke="#2b1a10" stroke-width="0.7"/>
<path d="M901.5,630.5L901.1,631.4L900.4,631.8L899.6,631.4L899.3,630.5L899.6,629.6L900.4,629.2L901.1,629.6Z" fill="#7d1007" stroke="#2b1a10" stroke-width="0.7"/>
<path d="M888.7,638.2L888.2,638.7L887.1,638.9L886.0,638.7L885.6,638.2L886.0,637.8L887.1,637.6L888.2,637.8Z" fill="#7d1007" stroke="#2b1a10" stroke-width="0.7"/>
<path d="M864.0,634.9L863.6,635.5L862.8,635.8L862.1,635.5L861.7,634.9L862.1,634.3L862.8,634.0L863.6,634.3Z" fill="#7d1007" stroke="#2b1a10" stroke-width="0.7"/>
<path d="M857.1,634.9L856.8,635.5L856.2,635.8L855.6,635.5L855.3,634.9L855.6,634.3L856.2,634.0L856.8,634.3Z" fill="#7d1007" stroke="#2b1a10" stroke-width="0.7"/>
<path d="M862.2,623.9L861.9,624.3L861.1,624.5L860.3,624.3L860.0,623.9L860.3,623.4L861.1,623.2L861.9,623.4Z" fill="#7d1007" stroke="#2b1a10" stroke-width="0.7"/>
<path d="M853.8,619.5L853.5,620.2L852.9,620.6L852.3,620.2L852.0,619.5L852.3,618.7L852.9,618.4L853.5,618.7Z" fill="#7d1007" stroke="#2b1a10" stroke-width="0.7"/>
<path d="M850.5,627.9L850.2,628.5L849.6,628.7L849.0,628.5L848.7,627.9L849.0,627.2L849.6,627.0L850.2,627.2Z" fill="#7d1007" stroke="#2b1a10" stroke-width="0.7"/>
<path d="M909.0,625.6L908.1,626.3L907.2,626.3L906.8,625.5L907.2,624.4L908.1,623.6L909.0,623.7L909.4,624.5Z" fill="#7d1007" stroke="#2b1a10" stroke-width="0.7"/>
<path d="M922.0,627.2L921.5,627.8L920.2,628.1L919.0,627.8L918.5,627.2L919.0,626.6L920.2,626.3L921.5,626.6Z" fill="#7d1007" stroke="#2b1a10" stroke-width="0.7"/>
<path d="M913.4,651.5L913.1,652.1L912.5,652.4L911.9,652.1L911.6,651.5L911.9,650.9L912.5,650.6L913.1,650.9Z" fill="#7d1007" stroke="#2b1a10" stroke-width="0.7"/>
<path d="M906.0,613.3L905.9,614.0L905.2,614.7L904.3,614.9L903.6,614.6L903.7,613.9L904.4,613.2L905.3,613.0Z" fill="#7d1007" stroke="#2b1a10" stroke-width="0.7"/>
<path d="M994.8,636.1L999.8,629.9L1006.0,627.4L1012.3,624.9L1017.3,621.1L1022.2,616.1L1026.0,612.9L1027.2,616.1L1019.8,624.9L1016.0,629.9L1012.3,634.9L1008.5,639.9L1003.5,642.3L998.5,642.3L996.0,639.9Z" fill="#b83c14" stroke="#2b1a10" stroke-width="0.7"/>
<path d="M970.0,433.8L969.2,428.8L971.8,425.0L978.0,421.2L985.5,415.0L991.8,410.0L998.0,405.0L1003.0,398.8L1008.0,393.8L1014.2,388.8L1016.0,391.2L1011.8,397.5L1008.0,405.0L1009.2,412.5L1005.5,420.0L1001.8,428.8L999.2,432.5L994.2,435.5L985.5,438.8L978.0,440.0L973.0,437.0Z" fill="#ffffff" stroke="none"/>
<path d="M711.2,502.5L713.8,501.2L716.2,508.8L715.0,513.8L712.5,510.0Z" fill="#b83c14" stroke="#2b1a10" stroke-width="0.7"/>
<path d="M717.5,512.5L719.5,511.5L723.0,519.5L721.5,520.5Z" fill="#b83c14" stroke="#2b1a10" stroke-width="0.7"/>
<path d="M735.0,533.0L742.5,533.0L743.0,535.0L736.2,535.5Z" fill="#b83c14" stroke="#2b1a10" stroke-width="0.7"/>
<path d="M743.8,538.8L751.2,538.0L751.8,540.0L745.0,540.5Z" fill="#b83c14" stroke="#2b1a10" stroke-width="0.7"/>
<path d="M665.7,85.0L666.2,84.5L666.8,85.0L666.2,85.5Z" fill="#f3ab2f" stroke="#2b1a10" stroke-width="0.7"/>
<path d="M670.7,96.2L671.2,95.7L671.8,96.2L671.2,96.8Z" fill="#f3ab2f" stroke="#2b1a10" stroke-width="0.7"/>
<path d="M673.2,102.5L673.8,102.0L674.3,102.5L673.8,103.0Z" fill="#f3ab2f" stroke="#2b1a10" stroke-width="0.7"/>
<path d="M669.5,107.5L670.0,107.0L670.5,107.5L670.0,108.0Z" fill="#f3ab2f" stroke="#2b1a10" stroke-width="0.7"/>
<path d="M667.0,115.0L667.5,114.5L668.0,115.0L667.5,115.5Z" fill="#f3ab2f" stroke="#2b1a10" stroke-width="0.7"/>
<path d="M679.5,82.5L680.0,82.0L680.5,82.5L680.0,83.0Z" fill="#f3ab2f" stroke="#2b1a10" stroke-width="0.7"/>
<path d="M685.0,80.5L685.5,80.0L686.0,80.5L685.5,81.0Z" fill="#f3ab2f" stroke="#2b1a10" stroke-width="0.7"/>
<path d="M688.2,75.0L688.8,74.5L689.3,75.0L688.8,75.5Z" fill="#f3ab2f" stroke="#2b1a10" stroke-width="0.7"/>
<path d="M714.5,29.5L715.0,28.9L715.5,29.5L715.0,30.1Z" fill="#f3ab2f" stroke="#2b1a10" stroke-width="0.7"/>
<path d="M718.2,26.2L718.8,25.7L719.3,26.2L718.8,26.8Z" fill="#f3ab2f" stroke="#2b1a10" stroke-width="0.7"/>
<path d="M727.0,18.8L727.5,18.2L728.0,18.8L727.5,19.3Z" fill="#f3ab2f" stroke="#2b1a10" stroke-width="0.7"/>
<path d="M737.0,11.2L737.5,10.7L738.0,11.2L737.5,11.8Z" fill="#f3ab2f" stroke="#2b1a10" stroke-width="0.7"/>
<path d="M749.5,3.8L750.0,3.2L750.5,3.8L750.0,4.3Z" fill="#f3ab2f" stroke="#2b1a10" stroke-width="0.7"/>
<path d="M756.5,10.0L757.0,9.4L757.5,10.0L757.0,10.6Z" fill="#f3ab2f" stroke="#2b1a10" stroke-width="0.7"/>
<path d="M770.7,5.5L771.2,5.0L771.8,5.5L771.2,6.0Z" fill="#f3ab2f" stroke="#2b1a10" stroke-width="0.7"/>
<path d="M676.5,93.0L677.0,92.5L677.5,93.0L677.0,93.5Z" fill="#f3ab2f" stroke="#2b1a10" stroke-width="0.7"/>
<path d="M675.0,98.8L675.5,98.2L676.0,98.8L675.5,99.3Z" fill="#f3ab2f" stroke="#2b1a10" stroke-width="0.7"/>
<path d="M623.2,170.0L623.8,169.4L624.3,170.0L623.8,170.6Z" fill="#b83c14" stroke="#2b1a10" stroke-width="0.7"/>
<path d="M607.0,191.2L607.5,190.7L608.0,191.2L607.5,191.8Z" fill="#b83c14" stroke="#2b1a10" stroke-width="0.7"/>
<path d="M604.5,201.2L605.0,200.7L605.5,201.2L605.0,201.8Z" fill="#b83c14" stroke="#2b1a10" stroke-width="0.7"/>
<path d="M603.2,233.8L603.8,233.2L604.3,233.8L603.8,234.3Z" fill="#b83c14" stroke="#2b1a10" stroke-width="0.7"/>
<path d="M605.7,235.0L606.2,234.4L606.8,235.0L606.2,235.6Z" fill="#b83c14" stroke="#2b1a10" stroke-width="0.7"/>
<path d="M635.7,158.8L636.2,158.2L636.8,158.8L636.2,159.3Z" fill="#b83c14" stroke="#2b1a10" stroke-width="0.7"/>
<path d="M613.2,226.2L613.8,225.7L614.3,226.2L613.8,226.8Z" fill="#b83c14" stroke="#2b1a10" stroke-width="0.7"/>
<path d="M606.5,222.5L607.0,221.9L607.5,222.5L607.0,223.1Z" fill="#b83c14" stroke="#2b1a10" stroke-width="0.7"/>
<path d="M744.5,157.5L745.0,156.9L745.5,157.5L745.0,158.1Z" fill="#f3ab2f" stroke="#2b1a10" stroke-width="0.7"/>
<path d="M747.0,153.8L747.5,153.2L748.0,153.8L747.5,154.3Z" fill="#f3ab2f" stroke="#2b1a10" stroke-width="0.7"/>
<path d="M742.5,145.0L743.0,144.4L743.5,145.0L743.0,145.6Z" fill="#f3ab2f" stroke="#2b1a10" stroke-width="0.7"/>
<path d="M753.2,202.5L753.8,201.9L754.3,202.5L753.8,203.1Z" fill="#f3ab2f" stroke="#2b1a10" stroke-width="0.7"/>
<path d="M754.5,207.5L755.0,206.9L755.5,207.5L755.0,208.1Z" fill="#f3ab2f" stroke="#2b1a10" stroke-width="0.7"/>
<path d="M762.0,208.8L762.5,208.2L763.0,208.8L762.5,209.3Z" fill="#f3ab2f" stroke="#2b1a10" stroke-width="0.7"/>
<path d="M764.5,206.2L765.0,205.7L765.5,206.2L765.0,206.8Z" fill="#f3ab2f" stroke="#2b1a10" stroke-width="0.7"/>
<path d="M770.0,215.0L770.5,214.4L771.0,215.0L770.5,215.6Z" fill="#f3ab2f" stroke="#2b1a10" stroke-width="0.7"/>
<path d="M790.7,216.2L791.2,215.7L791.8,216.2L791.2,216.8Z" fill="#f3ab2f" stroke="#2b1a10" stroke-width="0.7"/>
<path d="M790.7,242.5L791.2,241.9L791.8,242.5L791.2,243.1Z" fill="#f3ab2f" stroke="#2b1a10" stroke-width="0.7"/>
<path d="M775.0,224.5L775.5,223.9L776.0,224.5L775.5,225.1Z" fill="#f3ab2f" stroke="#2b1a10" stroke-width="0.7"/>
<path d="M709.5,505.5L710.0,504.9L710.5,505.5L710.0,506.1Z" fill="#b83c14" stroke="#2b1a10" stroke-width="0.7"/>
<path d="M715.0,511.2L715.5,510.7L716.0,511.2L715.5,511.8Z" fill="#b83c14" stroke="#2b1a10" stroke-width="0.7"/>
<path d="M719.0,515.0L719.5,514.5L720.0,515.0L719.5,515.5Z" fill="#b83c14" stroke="#2b1a10" stroke-width="0.7"/>
<path d="M723.2,520.5L723.8,520.0L724.3,520.5L723.8,521.0Z" fill="#b83c14" stroke="#2b1a10" stroke-width="0.7"/>
<path d="M736.2,535.0L736.8,534.5L737.3,535.0L736.8,535.5Z" fill="#b83c14" stroke="#2b1a10" stroke-width="0.7"/>
<path d="M740.7,548.0L741.2,547.5L741.8,548.0L741.2,548.5Z" fill="#b83c14" stroke="#2b1a10" stroke-width="0.7"/>
<path d="M730.0,552.5L730.5,552.0L731.0,552.5L730.5,553.0Z" fill="#b83c14" stroke="#2b1a10" stroke-width="0.7"/>
<path d="M635.7,322.5L636.2,321.9L636.8,322.5L636.2,323.1Z" fill="#f3ab2f" stroke="#2b1a10" stroke-width="0.7"/>
<path d="M630.7,316.2L631.2,315.7L631.8,316.2L631.2,316.8Z" fill="#f3ab2f" stroke="#2b1a10" stroke-width="0.7"/>
<path d="M637.0,313.8L637.5,313.2L638.0,313.8L637.5,314.3Z" fill="#f3ab2f" stroke="#2b1a10" stroke-width="0.7"/>
<path d="M629.5,331.2L630.0,330.7L630.5,331.2L630.0,331.8Z" fill="#f3ab2f" stroke="#2b1a10" stroke-width="0.7"/>
<path d="M664.5,323.8L665.0,323.2L665.5,323.8L665.0,324.3Z" fill="#f3ab2f" stroke="#2b1a10" stroke-width="0.7"/>
<path d="M670.7,292.5L671.2,291.9L671.8,292.5L671.2,293.1Z" fill="#f3ab2f" stroke="#2b1a10" stroke-width="0.7"/>
<path d="M672.0,300.0L672.5,299.4L673.0,300.0L672.5,300.6Z" fill="#f3ab2f" stroke="#2b1a10" stroke-width="0.7"/>
<path d="M865.7,532.5L866.2,532.0L866.8,532.5L866.2,533.0Z" fill="#b83c14" stroke="#2b1a10" stroke-width="0.7"/>
<path d="M860.7,665.0L861.2,664.5L861.8,665.0L861.2,665.5Z" fill="#b83c14" stroke="#2b1a10" stroke-width="0.7"/>
<path d="M904.5,650.0L905.0,649.5L905.5,650.0L905.0,650.5Z" fill="#b83c14" stroke="#2b1a10" stroke-width="0.7"/>
<path d="M905.7,616.2L906.2,615.7L906.8,616.2L906.2,616.8Z" fill="#b83c14" stroke="#2b1a10" stroke-width="0.7"/>
<path d="M664.5,552.0L665.0,551.5L665.5,552.0L665.0,552.5Z" fill="#b83c14" stroke="#2b1a10" stroke-width="0.7"/>
<path d="M729.5,552.5L730.0,552.0L730.5,552.5L730.0,553.0Z" fill="#b83c14" stroke="#2b1a10" stroke-width="0.7"/>
<path d="M708.2,580.0L708.8,579.5L709.3,580.0L708.8,580.5Z" fill="#b83c14" stroke="#2b1a10" stroke-width="0.7"/>
<path d="M724.5,620.0L725.0,619.5L725.5,620.0L725.0,620.5Z" fill="#b83c14" stroke="#2b1a10" stroke-width="0.7"/>
<path d="M652.6,157.4L660.6,154.2L661.9,156.4L654.6,160.2Z" fill="#ffffff" stroke="none"/>
<path d="M460.0,300.0L463.8,296.2L470.0,293.0L475.0,291.2L481.2,292.5L485.0,298.8L486.2,305.0L483.8,310.0L476.2,313.8L472.5,312.5L471.2,307.5L466.2,310.0L462.5,307.5L458.8,305.0Z" fill="#e1e1e1" stroke="#c9c9c9" stroke-width="0.6"/>
<path d="M603.8,475.0L607.5,468.8L611.2,463.8L616.2,457.5L623.8,455.0L632.5,453.8L637.5,451.2L643.8,453.8L648.8,457.5L652.5,463.8L658.8,466.2L660.0,471.2L656.2,473.8L650.0,475.0L646.2,477.5L643.8,482.5L640.0,486.2L637.5,481.2L633.8,476.2L630.0,480.0L626.2,483.8L621.2,485.0L615.0,485.5L613.8,481.2L612.5,476.2L607.5,475.0Z" fill="#e1e1e1" stroke="#c9c9c9" stroke-width="0.6"/>
<path d="M393.5,526.9L401.3,526.4L404.3,530.1L412.4,531.8L421.0,533.3L425.9,538.7L427.1,542.4L421.0,546.1L416.6,551.0L414.8,559.6L412.4,566.9L408.7,571.8L403.3,574.3L405.0,581.7L406.3,587.8L401.3,593.9L403.3,602.5L398.9,607.4L394.5,613.6L394.0,617.2" fill="none" stroke="#2b1a10" stroke-width="0.75"/>
<path d="M494.0,522.5L499.0,525.0L506.5,528.8L512.8,532.5L520.2,535.0L526.5,537.0L534.0,540.0L540.2,542.5L546.5,544.5L554.0,545.5L559.0,546.2" fill="none" stroke="#2b1a10" stroke-width="0.75"/>
<path d="M566.5,384.7L569.0,390.2L573.4,391.9L577.7,398.9L582.9,400.6L585.5,406.7L590.7,407.5L594.2,411.9L598.5,416.2L601.9,417.1" fill="none" stroke="#2b1a10" stroke-width="0.75"/>
<path d="M571.6,381.6L581.2,380.7L587.2,379.5L595.0,380.2L601.9,384.7L605.1,390.2L606.3,393.3" fill="none" stroke="#2b1a10" stroke-width="0.75"/>
<path d="M606.3,393.3L608.0,397.1L609.7,400.6L608.0,404.9L606.3,406.7" fill="none" stroke="#2b1a10" stroke-width="0.75"/>
<path d="M609.2,416.2L614.9,421.4L621.0,424.8L626.2,426.6L631.4,428.7L628.8,434.4L626.2,440.4L624.5,447.4L623.6,452.6L624.5,455.2" fill="none" stroke="#2b1a10" stroke-width="0.75"/>
<path d="M621.0,343.5L620.1,350.4L617.5,356.5L619.3,360.8L615.8,364.2L618.4,367.7L614.9,372.9L609.7,374.6L608.0,377.2L608.9,381.6L607.1,386.8L605.4,390.2L606.3,393.3" fill="none" stroke="#2b1a10" stroke-width="0.75"/>
<path d="M615.8,364.2L619.3,366.0L624.5,364.2L628.8,366.0L632.3,370.3L636.6,367.7L640.0,372.0L643.5,373.8L644.4,377.2L640.0,380.7L638.3,384.2L634.0,387.6L631.4,391.9L627.9,393.7L624.5,395.4L619.3,398.0L614.9,399.7L610.6,400.6" fill="none" stroke="#8d6f5c" stroke-width="0.55"/>
<path d="M644.4,377.2L648.7,380.7L653.0,383.3" fill="none" stroke="#8d6f5c" stroke-width="0.55"/>
<path d="M631.4,391.9L633.1,397.1L629.7,401.5L627.9,406.7L631.4,408.4L634.8,411.0L635.7,417.1L640.0,417.9L644.4,416.2L643.5,409.3L647.0,405.8L651.3,406.7" fill="none" stroke="#8d6f5c" stroke-width="0.55"/>
<path d="M614.9,399.7L613.2,404.1L615.8,408.4L614.1,412.7L610.6,416.2" fill="none" stroke="#8d6f5c" stroke-width="0.55"/>
<path d="M627.9,406.7L624.5,409.3L621.0,411.9L618.4,416.2L621.0,419.7L623.6,423.1L626.2,426.6" fill="none" stroke="#8d6f5c" stroke-width="0.55"/>
<path d="M635.7,417.1L634.8,421.4L631.4,428.7" fill="none" stroke="#8d6f5c" stroke-width="0.55"/>
<path d="M644.4,416.2L648.7,414.5L652.2,417.1L654.8,421.4L658.2,426.6L659.1,433.5L656.5,438.7L653.9,443.9L654.8,450.8L653.9,456.0" fill="none" stroke="#8d6f5c" stroke-width="0.55"/>
<path d="M622.7,343.5L627.9,345.2L633.1,343.5L637.4,346.9L640.0,350.4L645.2,349.5L650.4,352.1L653.9,348.7L660.8,346.9" fill="none" stroke="#8d6f5c" stroke-width="0.55"/>
<path d="M637.4,348.7L641.8,349.5L640.9,353.0L638.0,352.1L637.4,348.7" fill="none" stroke="#8d6f5c" stroke-width="0.55"/>
<path d="M663.4,356.5L671.2,354.7L679.0,355.6L679.9,362.5L681.6,367.7L685.1,372.0L689.4,374.6L688.5,379.0" fill="none" stroke="#9a8050" stroke-width="0.55"/>
<path d="M679.0,355.6L686.8,350.4L693.7,346.9L700.6,345.2" fill="none" stroke="#9a8050" stroke-width="0.55"/>
<path d="M688.5,379.0L683.3,380.7L679.0,381.6L678.1,388.5L681.6,391.9L679.0,395.4" fill="none" stroke="#9a8050" stroke-width="0.55"/>
<path d="M653.9,383.3L660.8,380.7L665.2,377.2L671.2,379.0L679.0,381.6" fill="none" stroke="#9a8050" stroke-width="0.55"/>
<path d="M688.5,379.0L693.7,381.6L700.6,380.7L706.7,379.0" fill="none" stroke="#9a8050" stroke-width="0.55"/>
<path d="M595.9,353.0L600.2,356.5L605.4,355.6L610.6,357.3L615.8,356.5" fill="none" stroke="#8d6f5c" stroke-width="0.55"/>
<path d="M596.8,362.5L601.9,361.6L607.1,363.4L610.6,360.8L615.8,364.2" fill="none" stroke="#8d6f5c" stroke-width="0.55"/>
<path d="M587.2,368.6L593.3,367.7L598.5,369.4L603.7,367.7L609.7,370.3L614.9,372.9" fill="none" stroke="#8d6f5c" stroke-width="0.55"/>
<path d="M582.9,375.5L589.8,374.6L596.8,375.5L601.9,373.8L608.0,377.2" fill="none" stroke="#8d6f5c" stroke-width="0.55"/>
<path d="M600.2,356.5L599.4,362.5L601.9,367.7L601.1,373.8" fill="none" stroke="#8d6f5c" stroke-width="0.55"/>
<path d="M573.4,391.9L579.4,391.1L586.4,391.9L593.3,392.8L600.2,391.9L605.1,390.2" fill="none" stroke="#8d6f5c" stroke-width="0.55"/>
<path d="M590.7,407.5L592.4,400.6L593.3,392.8" fill="none" stroke="#8d6f5c" stroke-width="0.55"/>
<path d="M553.8,415.0L557.5,418.8L565.0,421.2L572.5,422.5L576.2,417.5L580.0,412.5L585.0,408.8" fill="none" stroke="#8d6f5c" stroke-width="0.55"/>
<path d="M551.2,420.0L553.8,415.0" fill="none" stroke="#8d6f5c" stroke-width="0.55"/>
<path d="M565.0,421.2L567.5,426.2L571.2,430.0L567.5,436.2L560.0,437.5" fill="none" stroke="#8d6f5c" stroke-width="0.55"/>
<path d="M585.0,408.8L583.8,415.0L580.0,421.2L576.2,425.0L572.5,422.5" fill="none" stroke="#8d6f5c" stroke-width="0.55"/>
<path d="M571.2,430.0L576.2,435.0L583.8,438.8L590.0,445.0L597.5,447.5L602.5,450.0L610.0,452.5L615.0,455.0L623.8,452.5" fill="none" stroke="#8d6f5c" stroke-width="0.55"/>
<path d="M565.0,440.0L567.5,436.2" fill="none" stroke="#8d6f5c" stroke-width="0.55"/>
<path d="M566.2,447.5L571.2,451.2L575.0,457.5L573.8,465.0L576.2,471.2L580.0,476.2L587.5,475.0L595.0,477.5L602.5,476.2" fill="none" stroke="#8d6f5c" stroke-width="0.55"/>
<path d="M565.0,462.5L570.0,467.5L576.2,471.2" fill="none" stroke="#8d6f5c" stroke-width="0.55"/>
<path d="M560.0,467.5L556.2,475.0L557.5,482.5L553.8,490.0L550.0,495.0L548.8,502.5L555.0,505.0L562.5,503.8L570.0,500.0L576.2,502.5L585.0,505.0L592.5,506.2L597.5,508.0" fill="none" stroke="#8d6f5c" stroke-width="0.55"/>
<path d="M545.0,470.5L550.0,475.0L556.2,475.0" fill="none" stroke="#8d6f5c" stroke-width="0.55"/>
<path d="M548.8,502.5L545.0,500.0L540.0,496.2L535.0,502.5L530.0,510.0L525.0,513.0" fill="none" stroke="#8d6f5c" stroke-width="0.55"/>
<path d="M515.2,501.2L519.0,507.5L526.5,510.0L534.0,503.8L540.2,498.8L549.0,497.5L556.5,502.5L564.0,503.8L570.2,510.0L576.5,512.5L584.0,516.2" fill="none" stroke="#8d6f5c" stroke-width="0.55"/>
<path d="M515.2,501.2L509.0,512.5L504.0,517.5L497.8,523.8L494.0,522.5" fill="none" stroke="#8d6f5c" stroke-width="0.55"/>
<path d="M515.2,501.2L516.5,495.0L524.0,490.0L534.0,487.5L544.0,488.8L549.0,497.5" fill="none" stroke="#8d6f5c" stroke-width="0.55"/>
<path d="M421.5,505.0L422.8,515.0L419.0,520.0L421.5,525.0L417.8,531.2" fill="none" stroke="#8d6f5c" stroke-width="0.55"/>
<path d="M455.2,514.5L459.0,520.0L466.5,522.5L472.8,520.0L474.0,517.0" fill="none" stroke="#8d6f5c" stroke-width="0.55"/>
<path d="M472.8,520.0L475.2,526.2L480.2,530.0L477.8,533.8L472.8,536.2L471.5,540.0L479.0,542.5L486.5,545.5L490.2,543.8L494.0,538.8L495.2,530.0L494.0,522.5" fill="none" stroke="#8d6f5c" stroke-width="0.55"/>
<path d="M416.5,563.8L425.2,562.5L432.8,567.5L434.0,571.2L445.2,571.2L451.5,565.0L459.0,558.8L466.5,556.2L472.8,557.5L480.2,561.2L484.0,557.5L486.5,551.2L489.0,545.5" fill="none" stroke="#8d6f5c" stroke-width="0.55"/>
<path d="M445.2,571.2L450.2,572.5L457.8,575.0L455.2,578.8L461.5,577.5L466.5,576.2L465.2,566.2L464.0,557.5" fill="none" stroke="#8d6f5c" stroke-width="0.55"/>
<path d="M434.0,571.2L436.5,580.0L435.2,587.5L437.8,592.5L434.0,597.5L425.2,602.5L416.5,607.5L409.0,605.0L405.2,601.2" fill="none" stroke="#8d6f5c" stroke-width="0.55"/>
<path d="M434.0,597.5L441.5,602.5L451.5,606.2L461.5,607.5L467.8,610.0L470.2,616.2L475.2,617.5L481.5,615.0L485.2,608.8L490.2,606.2" fill="none" stroke="#8d6f5c" stroke-width="0.55"/>
<path d="M470.2,616.2L474.0,622.5L479.0,627.5L482.8,630.0" fill="none" stroke="#8d6f5c" stroke-width="0.55"/>
<path d="M490.2,606.2L491.5,612.5L490.2,620.0L492.8,625.0" fill="none" stroke="#8d6f5c" stroke-width="0.55"/>
<path d="M480.2,561.2L485.2,567.5L486.5,573.8L485.2,578.8L490.2,581.2L494.0,578.8L491.5,585.0L487.8,590.0L486.5,597.5L489.0,602.5L490.2,606.2" fill="none" stroke="#8d6f5c" stroke-width="0.55"/>
<path d="M525.2,537.5L524.0,547.5L520.2,555.0L516.5,562.5L515.2,570.0L514.0,575.0L507.8,572.5L504.0,578.8L497.8,585.0L494.0,578.8" fill="none" stroke="#8d6f5c" stroke-width="0.55"/>
<path d="M489.0,545.5L495.2,542.5L501.5,537.5L509.0,533.8L512.8,532.5" fill="none" stroke="#8d6f5c" stroke-width="0.55"/>
<path d="M730.0,318.8L728.8,327.5L732.5,333.8L737.5,335.0L746.2,333.8L755.0,335.0L762.5,337.5L762.5,330.0L756.2,326.2L755.0,322.5" fill="none" stroke="#5a7a3a" stroke-width="0.55"/>
<path d="M702.5,356.2L710.0,352.5L718.8,350.0L722.5,343.8L728.8,341.2L732.5,333.8" fill="none" stroke="#5a7a3a" stroke-width="0.55"/>
<path d="M737.5,335.0L736.2,343.8L738.8,351.2L746.2,356.2L755.0,355.0L762.5,347.5L762.5,337.5" fill="none" stroke="#5a7a3a" stroke-width="0.55"/>
<path d="M762.5,337.5L770.0,340.0L780.0,335.0L790.0,332.5L798.8,327.5L802.5,322.5" fill="none" stroke="#5a7a3a" stroke-width="0.55"/>
<path d="M780.0,335.0L785.0,345.0L790.0,351.2L797.5,353.8L805.0,353.8" fill="none" stroke="#5a7a3a" stroke-width="0.55"/>
<path d="M718.8,350.0L721.2,358.8L720.0,367.5L725.0,375.0L733.8,372.5L740.0,376.2L746.2,370.0L752.5,365.0L755.0,355.0" fill="none" stroke="#5a7a3a" stroke-width="0.55"/>
<path d="M709.5,377.5L715.0,375.0L720.0,367.5" fill="none" stroke="#5a7a3a" stroke-width="0.55"/>
<path d="M725.0,375.0L726.2,382.5L732.5,385.0L737.5,390.0L737.5,398.8" fill="none" stroke="#5a7a3a" stroke-width="0.55"/>
<path d="M740.0,376.2L742.5,383.8L737.5,390.0" fill="none" stroke="#5a7a3a" stroke-width="0.55"/>
<path d="M742.5,383.8L750.0,385.0L755.0,390.0L752.5,396.2L750.0,402.5" fill="none" stroke="#5a7a3a" stroke-width="0.55"/>
<path d="M752.5,365.0L760.0,367.5L765.0,373.8L762.5,381.2L755.0,390.0" fill="none" stroke="#5a7a3a" stroke-width="0.55"/>
<path d="M765.0,373.8L775.0,370.0L776.2,362.5L785.0,360.0L790.0,351.2" fill="none" stroke="#5a7a3a" stroke-width="0.55"/>
<path d="M762.5,381.2L770.0,385.0L777.5,382.5L787.5,385.0L790.0,375.0L797.5,370.0L805.0,367.5L810.0,360.0" fill="none" stroke="#5a7a3a" stroke-width="0.55"/>
<path d="M770.0,385.0L768.8,393.8L775.0,400.0L770.0,410.0" fill="none" stroke="#5a7a3a" stroke-width="0.55"/>
<path d="M787.5,385.0L790.0,395.0L787.5,402.5L790.0,410.0" fill="none" stroke="#5a7a3a" stroke-width="0.55"/>
<path d="M695.0,397.5L700.0,405.0L697.5,412.5L701.2,420.0" fill="none" stroke="#5a7a3a" stroke-width="0.55"/>
<path d="M700.0,405.0L710.0,403.8L717.5,407.5L720.0,415.0L717.5,422.5L717.5,427.5" fill="none" stroke="#5a7a3a" stroke-width="0.55"/>
<path d="M720.0,392.5L722.5,400.0L717.5,407.5" fill="none" stroke="#5a7a3a" stroke-width="0.55"/>
<path d="M720.0,415.0L730.0,412.5L737.5,416.2L745.0,412.5L750.0,402.5" fill="none" stroke="#5a7a3a" stroke-width="0.55"/>
<path d="M737.5,416.2L740.0,422.5L740.0,427.5" fill="none" stroke="#5a7a3a" stroke-width="0.55"/>
<path d="M703.8,406.2L708.8,405.0L710.0,408.8L705.0,410.0L703.8,406.2" fill="none" stroke="#5a7a3a" stroke-width="0.55"/>
<path d="M687.5,143.8L702.5,140.0L712.5,147.5L725.0,147.5L735.0,150.0" fill="none" stroke="#9a8050" stroke-width="0.55"/>
<path d="M687.5,127.0L697.5,135.0L707.5,143.8L717.5,146.2L726.2,145.0L733.8,150.0" fill="none" stroke="#9a8050" stroke-width="0.55"/>
<path d="M676.2,180.0L685.0,190.0L691.2,191.2L700.0,180.0L720.0,178.8" fill="none" stroke="#9a8050" stroke-width="0.55"/>
<path d="M695.0,220.0L700.0,218.8L707.5,220.0L720.0,210.0L723.8,207.5" fill="none" stroke="#9a8050" stroke-width="0.55"/>
<path d="M672.5,237.5L685.0,238.8L695.0,245.0L700.0,256.2L707.5,260.0L715.0,255.0L721.2,252.5" fill="none" stroke="#9a8050" stroke-width="0.55"/>
<path d="M695.0,220.0L696.2,230.0L695.0,237.5L695.0,245.0" fill="none" stroke="#9a8050" stroke-width="0.55"/>
<path d="M685.0,277.5L690.0,270.0L691.2,260.0L700.0,256.2" fill="none" stroke="#9a8050" stroke-width="0.55"/>
<path d="M690.0,270.0L702.5,272.5L712.5,267.5L720.0,272.5" fill="none" stroke="#9a8050" stroke-width="0.55"/>
<path d="M725.0,230.0L726.2,222.5L733.8,212.5" fill="none" stroke="#9a8050" stroke-width="0.55"/>
<path d="M667.5,260.0L677.5,258.8L685.0,277.5L687.5,287.5" fill="none" stroke="#9a8050" stroke-width="0.55"/>
<path d="M762.5,141.2L770.0,145.0L780.0,142.5L787.5,145.0L792.5,152.5L797.5,162.5L798.8,172.5" fill="none" stroke="#9a8050" stroke-width="0.55"/>
<path d="M797.5,162.5L807.5,157.5L826.2,167.5" fill="none" stroke="#9a8050" stroke-width="0.55"/>
<path d="M757.5,195.0L765.0,193.8L775.0,190.0L787.5,186.2L797.5,182.5L807.5,180.0L822.5,177.5" fill="none" stroke="#9a8050" stroke-width="0.55"/>
<path d="M798.8,172.5L797.5,182.5" fill="none" stroke="#9a8050" stroke-width="0.55"/>
<path d="M760.0,141.2L767.5,142.5L780.0,143.8L790.0,142.5L795.0,150.0L797.5,162.5" fill="none" stroke="#9a8050" stroke-width="0.55"/>
<path d="M780.0,143.8L776.2,155.0L770.0,162.5L767.5,173.0" fill="none" stroke="#9a8050" stroke-width="0.55"/>
<path d="M651.2,151.2L648.8,160.0L647.5,170.0L646.2,178.8" fill="none" stroke="#8d6f5c" stroke-width="0.55"/>
<path d="M622.5,171.2L630.0,173.8L640.0,173.8L647.5,170.0" fill="none" stroke="#8d6f5c" stroke-width="0.55"/>
<path d="M615.0,178.8L622.5,182.5L631.2,183.8" fill="none" stroke="#8d6f5c" stroke-width="0.55"/>
<path d="M637.5,203.8L631.2,207.5L630.0,215.0L631.2,222.5L630.0,222.5" fill="none" stroke="#8d6f5c" stroke-width="0.55"/>
<path d="M642.5,205.0L648.8,210.0" fill="none" stroke="#8d6f5c" stroke-width="0.55"/>
<path d="M630.0,215.0L620.0,220.0L615.0,227.5" fill="none" stroke="#8d6f5c" stroke-width="0.55"/>
<path d="M661.2,216.2L660.0,220.0L657.5,230.0" fill="none" stroke="#8d6f5c" stroke-width="0.55"/>
<path d="M633.8,476.2L635.0,485.0L637.5,492.5L636.2,500.0L641.2,505.0L645.0,512.5" fill="none" stroke="#9a8050" stroke-width="0.55"/>
<path d="M621.2,518.8L627.5,515.0L636.2,511.2L645.0,512.5L651.2,515.0" fill="none" stroke="#9a8050" stroke-width="0.55"/>
<path d="M660.0,471.2L662.5,477.5L661.2,485.0L665.0,490.0L662.5,496.2L670.0,498.8L677.5,500.0L682.5,500.0" fill="none" stroke="#9a8050" stroke-width="0.55"/>
<path d="M662.5,477.5L670.0,475.0L675.0,472.5L681.2,465.0" fill="none" stroke="#9a8050" stroke-width="0.55"/>
<path d="M675.0,472.5L680.0,477.5L683.8,485.0L685.0,493.8" fill="none" stroke="#9a8050" stroke-width="0.55"/>
<path d="M641.2,505.0L650.0,503.8L662.5,502.5L675.0,503.8L683.8,507.5" fill="none" stroke="#9a8050" stroke-width="0.55"/>
<path d="M685.0,470.0L687.5,477.5L686.2,485.0L690.0,490.0" fill="none" stroke="#9a8050" stroke-width="0.55"/>
<path d="M683.8,531.2L687.5,537.5L685.0,545.0L688.8,550.0L693.8,552.5L697.5,543.8" fill="none" stroke="#9a8050" stroke-width="0.55"/>
<path d="M677.5,545.0L682.5,550.0L688.8,550.0" fill="none" stroke="#9a8050" stroke-width="0.55"/>
<path d="M706.2,538.8L705.0,547.5L711.2,545.0" fill="none" stroke="#9a8050" stroke-width="0.55"/>
<path d="M693.8,552.5L700.0,557.5L705.0,555.0L710.0,560.0L716.2,551.2" fill="none" stroke="#9a8050" stroke-width="0.55"/>
<path d="M710.0,560.0L715.0,565.0L721.2,556.2" fill="none" stroke="#9a8050" stroke-width="0.55"/>
<path d="M715.0,565.0L717.5,572.5L725.0,576.2L731.2,572.5L732.5,575.0" fill="none" stroke="#9a8050" stroke-width="0.55"/>
<path d="M721.2,556.2L727.5,565.0L737.5,572.0" fill="none" stroke="#9a8050" stroke-width="0.55"/>
<path d="M685.0,460.0L681.2,465.0" fill="none" stroke="#9a8050" stroke-width="0.55"/>
<path d="M698.8,462.5L700.0,463.8" fill="none" stroke="#9a8050" stroke-width="0.55"/>
<path d="M707.5,450.0L717.5,451.2L725.0,455.0L735.0,461.2" fill="none" stroke="#9a8050" stroke-width="0.55"/>
<path d="M710.0,465.0L711.2,458.8L717.5,451.2" fill="none" stroke="#9a8050" stroke-width="0.55"/>
<path d="M717.5,466.2L725.0,462.5L730.0,457.5L736.2,455.0" fill="none" stroke="#9a8050" stroke-width="0.55"/>
<path d="M713.8,496.2L720.0,493.8L730.0,492.5L740.0,494.5" fill="none" stroke="#8d6f5c" stroke-width="0.55"/>
<path d="M750.0,493.8L752.5,487.5L756.2,481.2" fill="none" stroke="#8d6f5c" stroke-width="0.55"/>
<path d="M799.2,460.0L808.0,461.2L816.8,461.2" fill="none" stroke="#9a8050" stroke-width="0.55"/>
<path d="M841.8,431.2L843.0,442.5L845.5,442.5" fill="none" stroke="#9a8050" stroke-width="0.55"/>
<path d="M864.2,457.5L873.0,455.0L885.5,453.8L888.0,455.0" fill="none" stroke="#9a8050" stroke-width="0.55"/>
<path d="M866.0,463.8L873.0,467.5L881.8,466.2L890.5,463.8" fill="none" stroke="#9a8050" stroke-width="0.55"/>
<path d="M830.5,477.0L825.5,485.0L821.8,496.2" fill="none" stroke="#9a8050" stroke-width="0.55"/>
<path d="M840.5,474.5L843.0,485.0L848.0,492.5L850.5,507.5" fill="none" stroke="#9a8050" stroke-width="0.55"/>
<path d="M855.5,473.0L863.0,480.0L873.0,478.8L885.5,477.5L893.0,482.5L890.5,490.0L895.5,493.8" fill="none" stroke="#9a8050" stroke-width="0.55"/>
<path d="M865.0,485.5L867.5,483.5L870.5,485.0L871.5,490.0L869.5,493.0L866.0,492.0L864.5,489.0L865.0,485.5" fill="none" stroke="#9a8050" stroke-width="0.55"/>
<path d="M830.5,521.2L840.5,523.8L850.5,520.0L858.0,523.8L868.0,521.2L878.0,520.0L888.0,516.2L896.8,517.5" fill="none" stroke="#8d6f5c" stroke-width="0.55"/>
<path d="M858.0,506.2L859.2,515.0L858.0,523.8L860.5,530.0L868.0,533.8L878.0,532.5L885.5,536.2" fill="none" stroke="#8d6f5c" stroke-width="0.55"/>
<path d="M845.5,536.2L850.5,530.0L858.0,523.8" fill="none" stroke="#8d6f5c" stroke-width="0.55"/>
<path d="M873.0,498.8L875.5,507.5L870.5,512.5L878.0,520.0" fill="none" stroke="#8d6f5c" stroke-width="0.55"/>
<path d="M810.0,572.5L817.5,573.8L825.0,570.0L832.5,571.2L837.5,570.0" fill="none" stroke="#8d6f5c" stroke-width="0.55"/>
<path d="M806.2,580.0L815.0,585.0L820.0,582.5L826.2,586.2L835.0,583.8L841.2,583.8" fill="none" stroke="#8d6f5c" stroke-width="0.55"/>
<path d="M815.0,585.0L816.2,592.5L822.5,595.0L830.0,592.5L837.5,595.0L843.8,595.0" fill="none" stroke="#8d6f5c" stroke-width="0.55"/>
<path d="M810.0,600.0L816.2,597.5L822.5,595.0" fill="none" stroke="#8d6f5c" stroke-width="0.55"/>
<path d="M823.8,603.8L832.5,602.5L840.0,606.2L846.2,602.5" fill="none" stroke="#8d6f5c" stroke-width="0.55"/>
<path d="M852.5,551.2L853.8,557.5L852.5,563.8" fill="none" stroke="#8d6f5c" stroke-width="0.55"/>
<path d="M835.0,616.2L840.0,620.0L846.2,618.8" fill="none" stroke="#8d6f5c" stroke-width="0.55"/>
<path d="M830.0,630.0L835.0,631.2L840.0,637.5" fill="none" stroke="#8d6f5c" stroke-width="0.55"/>
<path d="M747.5,443.8L750.0,452.5L746.2,460.0L750.0,467.5L747.5,476.2" fill="none" stroke="#5a7a3a" stroke-width="0.55"/>
<path d="M750.0,452.5L760.0,453.8L765.0,460.0L770.0,457.5L776.2,461.2L780.0,456.2L787.5,453.8L790.0,447.5L800.0,443.8L806.2,441.2" fill="none" stroke="#5a7a3a" stroke-width="0.55"/>
<path d="M765.0,460.0L766.2,470.0L766.2,480.5" fill="none" stroke="#5a7a3a" stroke-width="0.55"/>
<path d="M776.2,461.2L778.8,473.8" fill="none" stroke="#5a7a3a" stroke-width="0.55"/>
<path d="M787.5,453.8L792.5,468.8" fill="none" stroke="#5a7a3a" stroke-width="0.55"/>
<path d="M762.5,443.0L765.0,448.8L760.0,453.8" fill="none" stroke="#5a7a3a" stroke-width="0.55"/>
<path d="M776.2,433.8L780.0,442.5L790.0,447.5" fill="none" stroke="#5a7a3a" stroke-width="0.55"/>
<path d="M751.2,421.2L757.5,427.5L762.5,432.5L767.5,437.5" fill="none" stroke="#5a7a3a" stroke-width="0.55"/>
<path d="M762.5,432.5L770.0,427.5L778.8,423.8" fill="none" stroke="#5a7a3a" stroke-width="0.55"/>
<path d="M805.5,290.5L810.5,293.0L808.0,298.0L811.8,303.0L809.2,309.2L814.2,310.5L819.2,303.0L818.0,296.8L825.5,293.0L830.0,290.5" fill="none" stroke="#8d6f5c" stroke-width="0.55"/>
<path d="M776.3,491.6L775.3,500.0L781.0,509.4L781.9,515.0L776.3,523.5L771.6,526.3L769.7,531.9L771.6,541.3" fill="none" stroke="#c4c4c4" stroke-width="0.7"/>
<path d="M776.3,523.5L783.8,526.3L789.4,531.9L795.0,531.9L798.8,525.3L804.4,526.3L810.1,530.0L815.7,534.7L812.9,539.4L806.3,545.0L802.6,547.9" fill="none" stroke="#c4c4c4" stroke-width="0.7"/>
<path d="M795.0,531.9L793.2,537.5L787.5,539.4L784.7,544.1" fill="none" stroke="#c4c4c4" stroke-width="0.7"/>
<path d="M793.2,537.5L798.8,543.2L802.6,547.9L800.7,554.4L802.6,561.9L808.2,566.6" fill="none" stroke="#c4c4c4" stroke-width="0.7"/>
<path d="M815.7,534.7L821.3,539.4L827.9,537.5" fill="none" stroke="#c4c4c4" stroke-width="0.7"/>
<path d="M840.5,270.5L848.0,271.8L855.5,273.0L863.0,270.5L870.5,273.0L875.5,283.0L880.5,290.5L890.5,300.5L898.0,301.8L903.0,308.0L898.0,314.2L890.5,316.8L893.0,325.5L900.5,333.0L890.5,335.5L888.0,346.0" fill="none" stroke="#c4c4c4" stroke-width="0.7"/>
<path d="M900.5,333.0L910.5,325.5L920.5,321.8L928.0,326.8L933.0,336.8L943.0,338.0L948.0,346.0" fill="none" stroke="#c4c4c4" stroke-width="0.7"/>
<path d="M965.5,346.0L973.0,341.8L983.0,344.2L993.0,343.0L1008.0,344.2" fill="none" stroke="#c4c4c4" stroke-width="0.7"/>
<path d="M824.2,309.2L830.5,313.0L835.5,323.0L843.0,333.0L850.5,338.0L868.0,340.5L888.0,346.0" fill="none" stroke="#c4c4c4" stroke-width="0.7"/>
<path d="M861.8,418.8L868.0,413.8L878.0,412.5L888.0,417.5L895.5,425.0L900.5,433.8L908.0,438.8L904.2,443.8L898.0,446.2L895.5,455.0L893.0,463.8L890.5,463.8" fill="none" stroke="#c4c4c4" stroke-width="0.7"/>
<path d="M463.8,671.9L468.4,680.3L470.0,694.4" fill="none" stroke="#c4c4c4" stroke-width="0.7"/>
<path d="M630.9,652.2L627.8,666.2L629.4,678.8L626.2,694.4" fill="none" stroke="#c4c4c4" stroke-width="0.7"/>
</svg>
<svg id="left" width="400" height="693" viewBox="0 0 400 693" style="position:absolute;left:0;top:0" font-family="'DejaVu Sans Condensed','DejaVu Sans','Liberation Sans',sans-serif" fill="#151515">
<g font-family="'DejaVu Sans','Liberation Sans',sans-serif" font-weight="bold" font-size="13.2px" fill="#111" style="font-variant-ligatures:none">
<text x="16" y="141.4">14-day COVID-19 case notification rate</text>
<text x="16" y="159.2">per 100 000 population and test positivity, EU/EEA</text>
<text x="16" y="176.6">weeks 34 - 35</text></g>
<rect x="48" y="202.7" width="55.6" height="27.4" fill="#7d1007" stroke="#3a3a2a" stroke-width="0.7"/>
<rect x="105.9" y="202.7" width="55.3" height="27.4" fill="#7d1007" stroke="#3a3a2a" stroke-width="0.7"/>
<rect x="163.3" y="202.7" width="55.4" height="27.4" fill="#7d1007" stroke="#3a3a2a" stroke-width="0.7"/>
<rect x="48" y="232.3" width="55.6" height="27.4" fill="#b83c14" stroke="#3a3a2a" stroke-width="0.7"/>
<rect x="105.9" y="232.3" width="55.3" height="27.4" fill="#b83c14" stroke="#3a3a2a" stroke-width="0.7"/>
<rect x="163.3" y="232.3" width="55.4" height="27.4" fill="#b83c14" stroke="#3a3a2a" stroke-width="0.7"/>
<rect x="48" y="262.9" width="55.6" height="27.3" fill="#f3ab2f" stroke="#3a3a2a" stroke-width="0.7"/>
<rect x="105.9" y="262.9" width="55.3" height="27.3" fill="#f3ab2f" stroke="#3a3a2a" stroke-width="0.7"/>
<rect x="163.3" y="262.9" width="55.4" height="27.3" fill="#b83c14" stroke="#3a3a2a" stroke-width="0.7"/>
<rect x="48" y="292.9" width="55.6" height="27.4" fill="#5db32c" stroke="#3a3a2a" stroke-width="0.7"/>
<rect x="105.9" y="292.9" width="55.3" height="27.4" fill="#f3ab2f" stroke="#3a3a2a" stroke-width="0.7"/>
<rect x="163.3" y="292.9" width="55.4" height="27.4" fill="#f3ab2f" stroke="#3a3a2a" stroke-width="0.7"/>
<rect x="48" y="322.9" width="55.6" height="27.4" fill="#5db32c" stroke="#3a3a2a" stroke-width="0.7"/>
<rect x="105.9" y="322.9" width="55.3" height="27.4" fill="#5db32c" stroke="#3a3a2a" stroke-width="0.7"/>
<rect x="163.3" y="322.9" width="55.4" height="27.4" fill="#f3ab2f" stroke="#3a3a2a" stroke-width="0.7"/>
<path d="M30,354.5V206" stroke="#111" stroke-width="1.1" fill="none"/><path d="M30,199.3L33.6,210.5H26.4Z" fill="#111"/>
<path d="M42,369H208" stroke="#111" stroke-width="1.1" fill="none"/><path d="M216,369L205,365.4V372.6Z" fill="#111"/>
<text transform="translate(22.8,359) rotate(-90)" font-size="7.7px">14-day notification rate per 100 000 population</text>
<text transform="translate(45,216.4) rotate(-90)" font-size="5.8px" text-anchor="middle" fill="#222">≥500</text>
<text transform="translate(45,246.0) rotate(-90)" font-size="5.8px" text-anchor="middle" fill="#222">&gt;200-499</text>
<text transform="translate(45,276.5) rotate(-90)" font-size="5.8px" text-anchor="middle" fill="#222">75-200</text>
<text transform="translate(45,306.6) rotate(-90)" font-size="5.8px" text-anchor="middle" fill="#222">50-74</text>
<text transform="translate(45,336.6) rotate(-90)" font-size="5.8px" text-anchor="middle" fill="#222">&lt;50</text>
<text x="79.7" y="359.8" font-size="8px" text-anchor="middle">&lt;1%</text>
<text x="134.8" y="359.8" font-size="8px" text-anchor="middle">1&lt;4%</text>
<text x="191.5" y="359.8" font-size="8px" text-anchor="middle">≥4%</text>
<text x="133.6" y="380.4" font-size="7.5px" text-anchor="middle">Positivity rate</text>
<rect x="16" y="399.6" width="35.8" height="17.8" fill="#bfbfbf" stroke="#6e6e6e" stroke-width="0.8"/>
<rect x="16" y="424" width="35.8" height="17.8" fill="#8e8e8e" stroke="#6e6e6e" stroke-width="0.8"/>
<rect x="16" y="448.2" width="35.8" height="17.8" fill="#e2e2e2" stroke="#6e6e6e" stroke-width="0.8"/>
<g font-size="11.9px">
<text x="59.5" y="412.8">Testing rate &lt; 300 per 100 000 population</text>
<text x="59.5" y="437.2">No data available</text>
<text x="59.5" y="462">Not included</text>
</g>
<g font-size="14.3px"><text x="16" y="486.2">Regions not visible</text><text x="16" y="503.5">in the main map extent</text>
<text x="16" y="636">Countries not visible</text><text x="16" y="653.2">in the main map extent</text></g>
<rect x="16" y="515.8" width="35.5" height="16.2" fill="#5db32c" stroke="#6e6e6e" stroke-width="0.8"/>
<rect x="16" y="538.6" width="35.5" height="16.8" fill="#7d1007" stroke="#6e6e6e" stroke-width="0.8"/>
<rect x="16" y="562.6" width="35.5" height="16.8" fill="#b83c14" stroke="#6e6e6e" stroke-width="0.8"/>
<rect x="16" y="586.6" width="35.5" height="16.4" fill="#7d1007" stroke="#6e6e6e" stroke-width="0.8"/>
<rect x="149.4" y="516.2" width="35.3" height="16.2" fill="#f3ab2f" stroke="#6e6e6e" stroke-width="0.8"/>
<rect x="149.4" y="538.6" width="35.3" height="16.8" fill="#7d1007" stroke="#6e6e6e" stroke-width="0.8"/>
<rect x="149.4" y="562.6" width="35.5" height="16.8" fill="#f3ab2f" stroke="#6e6e6e" stroke-width="0.8"/>
<rect x="149.4" y="586.6" width="35.3" height="16.4" fill="#f3ab2f" stroke="#6e6e6e" stroke-width="0.8"/>
<rect x="16" y="662.6" width="35.5" height="18" fill="#f3ab2f" stroke="#6e6e6e" stroke-width="0.8"/>
<rect x="149.4" y="666.2" width="35.3" height="16.6" fill="#b83c14" stroke="#6e6e6e" stroke-width="0.8"/>
<g font-size="11.9px">
<text x="59.5" y="528">Azores</text>
<text x="192" y="529">Canary Islands</text>
<text x="192" y="551.6">Guyane</text>
<text x="59.5" y="576.6">La Reunion</text>
<text x="192" y="575.6">Madeira</text>
<text x="59.5" y="599.8">Martinique</text>
<text x="192" y="598.4">Mayotte</text>
<text x="59.5" y="676.5">Malta</text>
<text x="192" y="678">Liechtenstein</text>
</g>
<g font-size="9.4px"><text x="59.5" y="544.4">Guadeloupe</text><text x="59.5" y="555.8">and Saint Martin</text></g>
<path d="M39.00,15.62L41.34,13.28L44.08,10.94L47.59,7.03L50.72,6.25L54.62,8.59L57.75,5.47L60.88,4.30L64.78,6.25L67.91,8.59L71.03,13.28L72.20,17.97L74.94,21.09L72.20,24.22L73.38,26.56L75.72,29.69L74.16,32.81L75.72,35.16L71.81,36.72L68.69,38.28L65.56,40.62L60.88,41.41L56.19,43.36L53.06,42.19L48.38,40.62L45.25,43.36L43.69,42.19L45.25,39.06L42.91,36.72L39.78,38.28L35.88,39.06L33.53,38.28L31.19,40.62L28.06,43.36L24.16,42.19L22.59,39.06L23.77,35.16L27.28,35.55L30.80,34.38L31.19,30.47L34.31,27.34L30.80,24.22L31.58,18.75L34.31,17.97L34.70,22.66L39.78,21.48L39.00,17.97Z" fill="#a8ce70" stroke="#a8ce70" stroke-width="0.6" stroke-linejoin="round"/>
<path d="M29.23,7.81L31.97,7.42L32.91,9.77L30.80,10.78L29.47,9.77Z" fill="#a8ce70"/>
<path d="M48.38,14.84L50.72,14.06L53.06,15.62L51.50,17.97L49.16,17.58Z" fill="#e9f3dc"/>
<path d="M24.16,16.02C25.07,15.43 27.41,13.61 29.62,12.50C31.84,11.39 34.83,10.16 37.44,9.38C40.04,8.59 42.65,8.14 45.25,7.81C47.85,7.49 50.46,7.42 53.06,7.42C55.67,7.42 58.53,7.49 60.88,7.81C63.22,8.14 66.08,9.11 67.12,9.38" fill="none" stroke="#17296a" stroke-width="1.4" stroke-linecap="round"/>
<path d="M20.64,28.52C22.14,27.99 26.17,26.37 29.62,25.39C33.08,24.41 37.44,23.35 41.34,22.66C45.25,21.97 49.16,21.54 53.06,21.25C56.97,20.96 61.14,20.83 64.78,20.94C68.43,21.04 72.53,21.39 74.94,21.88C77.35,22.36 78.52,23.50 79.23,23.83" fill="none" stroke="#17296a" stroke-width="1.4" stroke-linecap="round"/>
<path d="M20.64,40.62C22.14,40.69 26.17,41.08 29.62,41.02C33.08,40.95 37.44,40.56 41.34,40.23C45.25,39.91 49.16,39.58 53.06,39.06C56.97,38.54 61.14,37.83 64.78,37.11C68.43,36.39 72.59,35.35 74.94,34.77C77.28,34.18 78.19,33.79 78.84,33.59" fill="none" stroke="#17296a" stroke-width="1.4" stroke-linecap="round"/>
<path d="M21.42,21.88C21.16,23.18 19.92,27.08 19.86,29.69C19.79,32.29 20.32,34.90 21.03,37.50C21.75,40.10 22.85,43.03 24.16,45.31C25.46,47.59 28.06,50.20 28.84,51.17" fill="none" stroke="#17296a" stroke-width="1.4" stroke-linecap="round"/>
<path d="M37.83,3.52C36.98,4.62 34.12,7.49 32.75,10.16C31.38,12.83 30.21,16.28 29.62,19.53C29.04,22.79 29.04,26.43 29.23,29.69C29.43,32.94 29.82,35.81 30.80,39.06C31.77,42.32 34.38,47.53 35.09,49.22" fill="none" stroke="#17296a" stroke-width="1.4" stroke-linecap="round"/>
<path d="M44.47,3.12C44.66,4.56 45.25,8.46 45.64,11.72C46.03,14.97 46.36,19.40 46.81,22.66C47.27,25.91 47.92,28.52 48.38,31.25C48.83,33.98 49.35,37.76 49.55,39.06" fill="none" stroke="#17296a" stroke-width="1.4" stroke-linecap="round"/>
<path d="M49.94,1.56C50.98,2.21 54.36,3.65 56.19,5.47C58.01,7.29 59.57,9.90 60.88,12.50C62.18,15.10 63.35,18.23 64.00,21.09C64.65,23.96 64.78,26.82 64.78,29.69C64.78,32.55 64.13,36.85 64.00,38.28" fill="none" stroke="#17296a" stroke-width="1.4" stroke-linecap="round"/>
<path d="M64.00,5.47C65.04,6.38 68.43,8.85 70.25,10.94C72.07,13.02 73.83,15.49 74.94,17.97C76.04,20.44 76.63,23.05 76.89,25.78C77.15,28.52 76.96,31.77 76.50,34.38C76.04,36.98 74.55,40.23 74.16,41.41" fill="none" stroke="#17296a" stroke-width="1.4" stroke-linecap="round"/>
<text y="64.4" font-family="'Liberation Sans',sans-serif" font-size="33.5px" fill="#17296a"><tspan x="37.9">e</tspan><tspan x="55.6" fill="#6cb52d" textLength="13.6" lengthAdjust="spacingAndGlyphs">c</tspan><tspan x="70.0" fill="#6cb52d">d</tspan><tspan x="97.9">c</tspan></text>
<path d="M86.3,42 C86.3,37 88.3,32.6 92.5,31.2" fill="none" stroke="#6cb52d" stroke-width="3" stroke-linecap="butt"/><ellipse cx="94.2" cy="30.6" rx="2.7" ry="2.1" fill="#6cb52d"/>
<rect x="38.6" y="72.7" width="18.2" height="12.3" fill="#2a3f9c"/>
<circle cx="47.70" cy="74.95" r="0.55" fill="#f2d21e"/>
<circle cx="49.65" cy="75.47" r="0.55" fill="#f2d21e"/>
<circle cx="51.08" cy="76.90" r="0.55" fill="#f2d21e"/>
<circle cx="51.60" cy="78.85" r="0.55" fill="#f2d21e"/>
<circle cx="51.08" cy="80.80" r="0.55" fill="#f2d21e"/>
<circle cx="49.65" cy="82.23" r="0.55" fill="#f2d21e"/>
<circle cx="47.70" cy="82.75" r="0.55" fill="#f2d21e"/>
<circle cx="45.75" cy="82.23" r="0.55" fill="#f2d21e"/>
<circle cx="44.32" cy="80.80" r="0.55" fill="#f2d21e"/>
<circle cx="43.80" cy="78.85" r="0.55" fill="#f2d21e"/>
<circle cx="44.32" cy="76.90" r="0.55" fill="#f2d21e"/>
<circle cx="45.75" cy="75.47" r="0.55" fill="#f2d21e"/>
<g font-family="'Liberation Sans',sans-serif" font-weight="bold" font-size="4.05px" fill="#17296a"><text x="61.6" y="76.1" textLength="51" lengthAdjust="spacingAndGlyphs">EUROPEAN CENTRE FOR</text><text x="61.6" y="80.2" textLength="47" lengthAdjust="spacingAndGlyphs">DISEASE PREVENTION</text><text x="61.6" y="84.3" textLength="31.5" lengthAdjust="spacingAndGlyphs">AND CONTROL</text></g>
</svg>
</body></html>
